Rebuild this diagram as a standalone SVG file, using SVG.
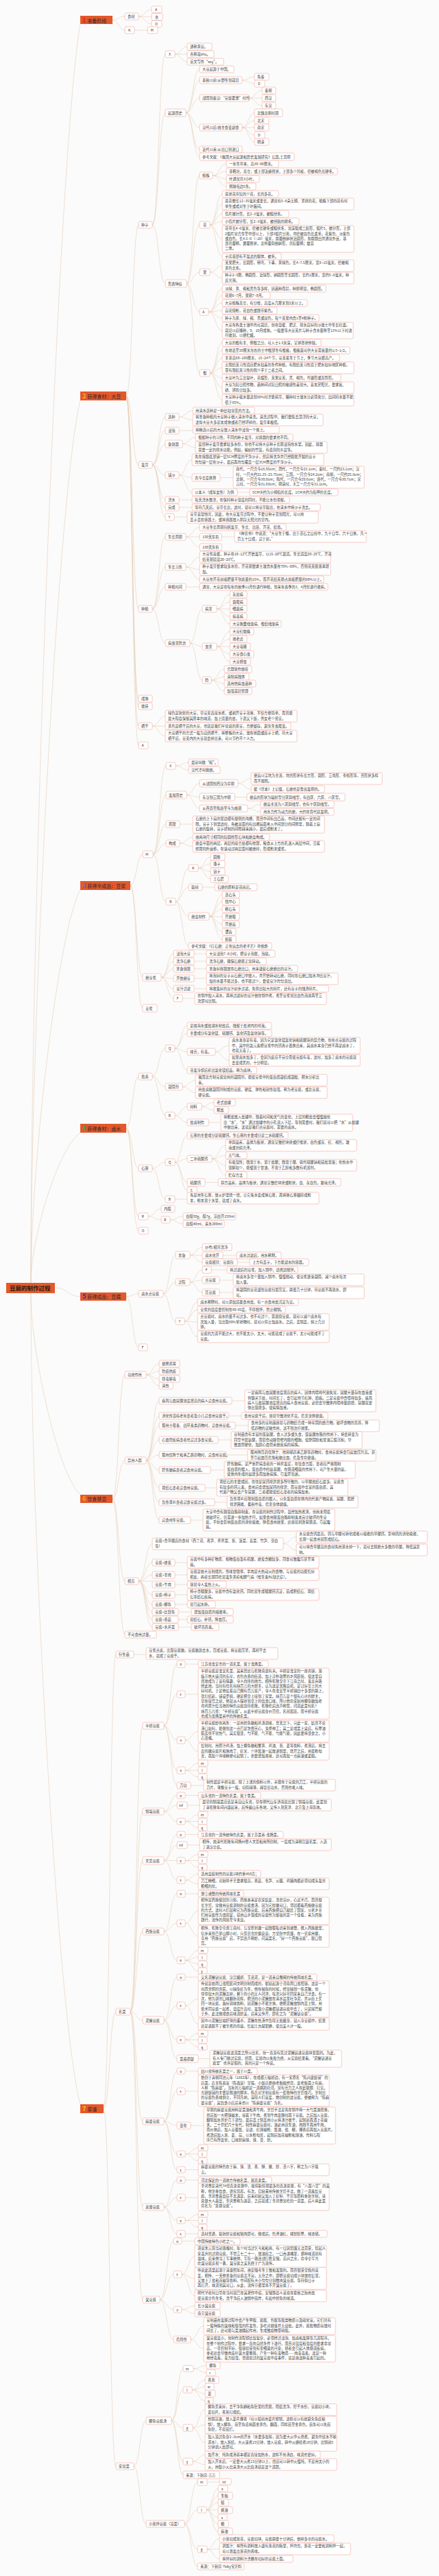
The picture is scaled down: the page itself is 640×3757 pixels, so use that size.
<svg xmlns="http://www.w3.org/2000/svg" width="640" height="3757" viewBox="0 0 640 3757">
<style>
.bg{fill:#fbfbfb}
.n rect{fill:#fff;stroke:#f2a89a;stroke-width:.6;rx:2px}
text{font-family:"Noto Sans CJK SC","Noto Sans",sans-serif;font-size:5.2px;fill:#3a3a3a}
.l1 rect,.root rect{fill:#e4582b}
.l1 text{font-size:7px;fill:#2a2a2a}
.num{font-size:9.5px;font-weight:bold}
.root text{font-size:8.5px;font-weight:bold;fill:#2a1a10}
#links path{fill:none;stroke:#e6cdb6;stroke-width:.6}
</style>
<rect class="bg" x="0" y="0" width="640" height="3757"/>
<g id="links">
<path d="M45 1871C45 1320 85 219 117 35M45 1871C45 1485 85 713 117 584M45 1871C45 1699 85 1355 117 1298M45 1871C45 1805 85 1674 117 1652M80 1878C98 1878 99 1891 117 1891M45 1886C45 1974 85 2151 117 2180M45 1886C45 2241 85 2951 117 3069"/>
<path d="M164 29C173 29 173 24 182 24M164 29C173 29 173 44 182 44M202 24C211 24 211 14 221 14M202 24C211 24 211 24.5 221 24.5M202 24C211 24 211 35 221 35M196 44H215"/>
<path d="M184 577.5C193 577.5 193 328 202 328M184 577.5C193 577.5 193 678 202 678M184 577.5C193 577.5 193 888 202 888M184 577.5C193 577.5 193 1019 202 1019M184 577.5C193 577.5 193 1030 202 1030M184 577.5C193 577.5 193 1059 202 1059M184 577.5C193 577.5 193 1087 202 1087"/>
<path d="M222 328C231.5 328 231.5 79 241 79M222 328C231.5 328 231.5 164.5 241 164.5M222 328C231.5 328 231.5 413.5 241 413.5"/>
<path d="M255 79C264 79 264 68 273 68M255 79H273M255 79C264 79 264 90 273 90"/>
<path d="M271 164.5C281 164.5 281 101 291 101M271 164.5C281 164.5 281 117 291 117M271 164.5C281 164.5 281 143 291 143M271 164.5C281 164.5 281 186 291 186M271 164.5C281 164.5 281 218 291 218M271 164.5C281 164.5 281 228.5 291 228.5"/>
<path d="M353 117C362 117 362 112 371 112M353 117C362 117 362 122 371 122M363 143C372.5 143 372.5 132 382 132M363 143H382M363 143C372.5 143 372.5 154 382 154"/>
<path d="M353 186C362 186 362 164.5 371 164.5M353 186C362 186 362 176 371 176M353 186H371M353 186C362 186 362 197 371 197M353 186C362 186 362 207 371 207"/>
<path d="M272 413.5C281.5 413.5 281.5 256 291 256M272 413.5C281.5 413.5 281.5 328 291 328M272 413.5C281.5 413.5 281.5 397 291 397M272 413.5C281.5 413.5 281.5 455 291 455M272 413.5C281.5 413.5 281.5 544 291 544"/>
<path d="M310 256C320 256 320 239 330 239M310 256C320 256 320 250 330 250M310 256C320 256 320 261 330 261M310 256C320 256 320 272 330 272"/>
<path d="M306 328C315 328 315 283 324 283M306 328C315 328 315 297.5 324 297.5M306 328C315 328 315 312 324 312M306 328C315 328 315 323 324 323M306 328C315 328 315 348.5 324 348.5M306 328C315 328 315 374 324 374"/>
<path d="M306 397C315 397 315 387.5 324 387.5M306 397C315 397 315 405.5 324 405.5"/>
<path d="M304 455C314 455 314 421 324 421M304 455C314 455 314 431 324 431M304 455C314 455 314 442 324 442M304 455C314 455 314 453 324 453M304 455C314 455 314 464 324 464M304 455C314 455 314 482 324 482"/>
<path d="M306 544C315 544 315 500 324 500M306 544C315 544 315 511 324 511M306 544C315 544 315 522 324 522M306 544C315 544 315 536.5 324 536.5M306 544C315 544 315 551 324 551M306 544C315 544 315 565.5 324 565.5M306 544C315 544 315 583.5 324 583.5"/>
<path d="M222 678C231.5 678 231.5 608 241 608M222 678C231.5 678 231.5 628 241 628M222 678C231.5 678 231.5 647.5 241 647.5M222 678C231.5 678 231.5 693 241 693M222 678C231.5 678 231.5 729 241 729M222 678C231.5 678 231.5 740 241 740M222 678C231.5 678 231.5 754 241 754"/>
<path d="M261 608C271 608 271 599 281 599M261 608C271 608 271 612.5 281 612.5M261 628H281M266 647.5C275.5 647.5 275.5 638 285 638M266 647.5C275.5 647.5 275.5 652.5 285 652.5"/>
<path d="M261 693C270.5 693 270.5 670.5 280 670.5M261 693C270.5 693 270.5 696.5 280 696.5M261 693C270.5 693 270.5 718 280 718M321 696.5H340M346 718H364M261 729H280M261 740H280M254 754H273"/>
<path d="M222 888C231.5 888 231.5 783 241 783M222 888C231.5 888 231.5 827 241 827M222 888C231.5 888 231.5 856 241 856M222 888C231.5 888 231.5 938 241 938"/>
<path d="M271 783C281 783 281 769 291 769M271 783H291M271 783C281 783 281 798 291 798M323 783H342"/>
<path d="M271 827C281 827 281 812.5 291 812.5M271 827C281 827 281 830.5 291 830.5M271 827C281 827 281 845 291 845M271 856H291"/>
<path d="M277 938C286 938 286 888 295 888M277 938C286 938 286 943 295 943M277 938C286 938 286 992 295 992"/>
<path d="M316 888C325.5 888 325.5 867 335 867M316 888C325.5 888 325.5 878 335 878M316 888H335M316 888C325.5 888 325.5 899 335 899M316 888C325.5 888 325.5 910 335 910"/>
<path d="M316 943C325.5 943 325.5 921 335 921M316 943C325.5 943 325.5 932 335 932M316 943H335M316 943C325.5 943 325.5 954 335 954M316 943C325.5 943 325.5 965 335 965"/>
<path d="M308 992C317.5 992 317.5 976 327 976M308 992C317.5 992 317.5 987 327 987M308 992C317.5 992 317.5 997 327 997M308 992C317.5 992 317.5 1008 327 1008"/>
<path d="M222 1059C231.5 1059 231.5 1044.5 241 1044.5M222 1059H241M222 1059C231.5 1059 231.5 1073.5 241 1073.5"/>
<path d="M190 1291.5C199 1291.5 199 1246 208 1246M190 1291.5C199 1291.5 199 1425.5 208 1425.5M190 1291.5C199 1291.5 199 1470.5 208 1470.5"/>
<path d="M223 1246C232.5 1246 232.5 1117 242 1117M223 1246C232.5 1246 232.5 1159.5 242 1159.5M223 1246C232.5 1246 232.5 1202 242 1202M223 1246C232.5 1246 232.5 1230 242 1230M223 1246C232.5 1246 232.5 1315 242 1315"/>
<path d="M256 1117C265.5 1117 265.5 1112 275 1112M256 1117C265.5 1117 265.5 1123 275 1123"/>
<path d="M272 1159.5C281.5 1159.5 281.5 1142.5 291 1142.5M272 1159.5C281.5 1159.5 281.5 1162.5 291 1162.5M272 1159.5C281.5 1159.5 281.5 1179 291 1179"/>
<path d="M347 1142.5C356.5 1142.5 356.5 1135.5 366 1135.5M347 1142.5C356.5 1142.5 356.5 1151 366 1151M342 1162.5H360M361 1179C370.5 1179 370.5 1173 380 1173M361 1179C370.5 1179 370.5 1184 380 1184"/>
<path d="M262 1202H281M262 1230C271.5 1230 271.5 1221 281 1221M262 1230C271.5 1230 271.5 1234.5 281 1234.5"/>
<path d="M256 1315C265.5 1315 265.5 1266 275 1266M256 1315C265.5 1315 265.5 1294 275 1294M256 1315C265.5 1315 265.5 1336.5 275 1336.5M256 1315C265.5 1315 265.5 1380 275 1380"/>
<path d="M289 1266C298 1266 298 1250 307 1250M289 1266C298 1266 298 1260 307 1260M289 1266C298 1266 298 1271 307 1271M289 1266C298 1266 298 1282 307 1282M295 1294H313"/>
<path d="M305 1336.5C314.5 1336.5 314.5 1305 324 1305M305 1336.5C314.5 1336.5 314.5 1315 324 1315M305 1336.5C314.5 1336.5 314.5 1326 324 1326M305 1336.5C314.5 1336.5 314.5 1337 324 1337M305 1336.5C314.5 1336.5 314.5 1348 324 1348M305 1336.5C314.5 1336.5 314.5 1359 324 1359M305 1336.5C314.5 1336.5 314.5 1370 324 1370"/>
<path d="M235 1425.5C244 1425.5 244 1391 253 1391M235 1425.5C244 1425.5 244 1402 253 1402M235 1425.5C244 1425.5 244 1413 253 1413M235 1425.5C244 1425.5 244 1427 253 1427M235 1425.5C244 1425.5 244 1442 253 1442M235 1425.5C244 1425.5 244 1456 253 1456"/>
<path d="M283 1391H301M283 1402H301M283 1413H301M283 1427H301M283 1442H301M266 1456H284"/>
<path d="M184 1645.5C193 1645.5 193 1570 202 1570M184 1645.5C193 1645.5 193 1704 202 1704M184 1645.5C193 1645.5 193 1774 202 1774M184 1645.5C193 1645.5 193 1795 202 1795"/>
<path d="M222 1570C231.5 1570 231.5 1529 241 1529M222 1570C231.5 1570 231.5 1585 241 1585M222 1570C231.5 1570 231.5 1627 241 1627"/>
<path d="M255 1529C264 1529 264 1496 273 1496M255 1529C264 1529 264 1507 273 1507M255 1529C264 1529 264 1534 273 1534M255 1529C264 1529 264 1561 273 1561"/>
<path d="M314 1534C324 1534 324 1525 334 1525M314 1534C324 1534 324 1546.5 334 1546.5M266 1585C275.5 1585 275.5 1575.5 285 1575.5M266 1585C275.5 1585 275.5 1593.5 285 1593.5"/>
<path d="M255 1627C264 1627 264 1614 273 1614M255 1627C264 1627 264 1637 273 1637M294 1614C303 1614 303 1608 312 1608M294 1614C303 1614 303 1619 312 1619M304 1637H322"/>
<path d="M222 1704C231.5 1704 231.5 1695 241 1695M222 1704C231.5 1704 231.5 1749 241 1749"/>
<path d="M255 1695C264 1695 264 1656 273 1656M255 1695C264 1695 264 1690 273 1690M255 1695C264 1695 264 1724.5 273 1724.5M255 1695C264 1695 264 1735.5 273 1735.5"/>
<path d="M309 1690C319 1690 319 1670.5 329 1670.5M309 1690C319 1690 319 1685 329 1685M309 1690C319 1690 319 1699.5 329 1699.5M309 1690C319 1690 319 1714 329 1714M299 1724.5H318M255 1749H273"/>
<path d="M216 1774C225.5 1774 225.5 1763 235 1763M216 1774C225.5 1774 225.5 1779 235 1779M248 1779C257.5 1779 257.5 1774 267 1774M248 1779C257.5 1779 257.5 1785 267 1785"/>
<path d="M184 1891C193 1891 193 1887 202 1887M184 1891C193 1891 193 1965 202 1965"/>
<path d="M238 1887C247 1887 247 1830.5 256 1830.5M238 1887C247 1887 247 1870 256 1870M238 1887C247 1887 247 1927 256 1927"/>
<path d="M277 1830.5C286 1830.5 286 1819 295 1819M277 1830.5C286 1830.5 286 1831 295 1831M277 1830.5C286 1830.5 286 1841 295 1841M325 1831H345M346 1841H364"/>
<path d="M277 1870C286 1870 286 1852 295 1852M277 1870C286 1870 286 1867 295 1867M277 1870C286 1870 286 1885 295 1885M308 1852H331M320 1867H340M320 1885H340"/>
<path d="M269 1927C278.5 1927 278.5 1899 288 1899M269 1927C278.5 1927 278.5 1910 288 1910M269 1927C278.5 1927 278.5 1928 288 1928M269 1927C278.5 1927 278.5 1949.5 288 1949.5"/>
<path d="M164 2186C173 2186 173 2005 182 2005M164 2186C173 2186 173 2130 182 2130M164 2186C173 2186 173 2306 182 2306M164 2186C173 2186 173 2384 182 2384"/>
<path d="M213 2005C222.5 2005 222.5 1989 232 1989M213 2005C222.5 2005 222.5 2000 232 2000M213 2005C222.5 2005 222.5 2011 232 2011M213 2005C222.5 2005 222.5 2021 232 2021"/>
<path d="M213 2130C222.5 2130 222.5 2043 232 2043M213 2130C222.5 2130 222.5 2065 232 2065M213 2130C222.5 2130 222.5 2079 232 2079M213 2130C222.5 2130 222.5 2100 232 2100M213 2130C222.5 2130 222.5 2122 232 2122M213 2130C222.5 2130 222.5 2144 232 2144M213 2130C222.5 2130 222.5 2170 232 2170M213 2130C222.5 2130 222.5 2191 232 2191M213 2130C222.5 2130 222.5 2217 232 2217"/>
<path d="M338 2043H357M333 2065H352M343 2079H362M318 2100H337M330 2122H361M307 2144H327M299 2170H316M313 2191H331M278 2217H296"/>
<path d="M202 2306C212 2306 212 2251.5 222 2251.5M202 2306C212 2306 212 2279 222 2279M202 2306C212 2306 212 2297 222 2297M202 2306H222M202 2306C212 2306 212 2326 222 2326M202 2306C212 2306 212 2340 222 2340M202 2306C212 2306 212 2351 222 2351M202 2306C212 2306 212 2362 222 2362M202 2306C212 2306 212 2373 222 2373"/>
<path d="M413 2251.5C422.5 2251.5 422.5 2241.5 432 2241.5M413 2251.5C422.5 2251.5 422.5 2260.5 432 2260.5M255 2279H273M255 2297H273M255 2311H273M255 2326H273M255 2340H273M260 2351H279M260 2362H273M260 2373H279"/>
<path d="M151 3075.5C160 3075.5 160 2413 169 2413M151 3075.5C160 3075.5 160 2934 169 2934M151 3075.5C160 3075.5 160 3597 169 3597M195 2413H213"/>
<path d="M190 2934C199 2934 199 2517 208 2517M190 2934C199 2934 199 2642 208 2642M190 2934C199 2934 199 2713.5 208 2713.5M190 2934C199 2934 199 2817 208 2817M190 2934C199 2934 199 2946.5 208 2946.5M190 2934C199 2934 199 3094 208 3094M190 2934C199 2934 199 3219 208 3219M190 2934C199 2934 199 3354 208 3354"/>
<path d="M239 2517C248.5 2517 248.5 2427 258 2427M239 2517C248.5 2517 248.5 2471 258 2471M239 2517C248.5 2517 248.5 2538 258 2538M239 2517C248.5 2517 248.5 2582 258 2582M239 2517C248.5 2517 248.5 2604 258 2604M270 2427H289M270 2471H289"/>
<path d="M270 2538C279.5 2538 279.5 2525 289 2525M270 2538C279.5 2538 279.5 2554.5 289 2554.5M270 2582C279.5 2582 279.5 2571.5 289 2571.5M270 2582H289M270 2582C279.5 2582 279.5 2591.5 289 2591.5M278 2604H297"/>
<path d="M239 2642C248.5 2642 248.5 2618.5 258 2618.5M239 2642C248.5 2642 248.5 2633 258 2633M239 2642C248.5 2642 248.5 2656.5 258 2656.5M270 2618.5H289M273 2633H291M270 2656.5C279.5 2656.5 279.5 2646.5 289 2646.5M270 2656.5H289M270 2656.5C279.5 2656.5 279.5 2665.5 289 2665.5"/>
<path d="M239 2713.5C248.5 2713.5 248.5 2675.5 258 2675.5M239 2713.5C248.5 2713.5 248.5 2691 258 2691M239 2713.5H258M239 2713.5C248.5 2713.5 248.5 2742 258 2742M270 2675.5H289M273 2691H291M270 2713.5C279.5 2713.5 279.5 2704.5 289 2704.5M270 2713.5H289M270 2713.5C279.5 2713.5 279.5 2723.5 289 2723.5M270 2742C279.5 2742 279.5 2733 289 2733M270 2742C279.5 2742 279.5 2747.5 289 2747.5"/>
<path d="M239 2817C248.5 2817 248.5 2762 258 2762M239 2817C248.5 2817 248.5 2805 258 2805M239 2817C248.5 2817 248.5 2859 258 2859M270 2762H289M270 2805C279.5 2805 279.5 2787 289 2787M270 2805C279.5 2805 279.5 2824 289 2824M270 2859C279.5 2859 279.5 2844.5 289 2844.5M270 2859C279.5 2859 279.5 2854.5 289 2854.5M270 2859C279.5 2859 279.5 2864.5 289 2864.5M270 2859C279.5 2859 279.5 2874.5 289 2874.5"/>
<path d="M239 2946.5C248.5 2946.5 248.5 2883.5 258 2883.5M239 2946.5C248.5 2946.5 248.5 2925 258 2925M239 2946.5C248.5 2946.5 248.5 2975 258 2975M239 2946.5C248.5 2946.5 248.5 3002.5 258 3002.5M270 2883.5H289M270 2925C279.5 2925 279.5 2915.5 289 2915.5M270 2925C279.5 2925 279.5 2952 289 2952M270 2975C279.5 2975 279.5 2965.5 289 2965.5M270 2975H289M270 2975C279.5 2975 279.5 2985.5 289 2985.5M289 3002.5H306"/>
<path d="M239 3094C248.5 3094 248.5 3020.5 258 3020.5M239 3094C248.5 3094 248.5 3050 258 3050M239 3094C248.5 3094 248.5 3100 258 3100M239 3094C248.5 3094 248.5 3141.5 258 3141.5M239 3094C248.5 3094 248.5 3164.5 258 3164.5M270 3020.5H289M270 3050H289M278 3100H297M270 3141.5C279.5 3141.5 279.5 3132.5 289 3132.5M270 3141.5H289M270 3141.5C279.5 3141.5 279.5 3151.5 289 3151.5M270 3164.5H289"/>
<path d="M239 3219C248.5 3219 248.5 3179.5 258 3179.5M239 3219C248.5 3219 248.5 3205 258 3205M239 3219C248.5 3219 248.5 3238.5 258 3238.5M239 3219C248.5 3219 248.5 3258 258 3258M270 3179.5H289M270 3205H289M270 3238.5C279.5 3238.5 279.5 3229.5 289 3229.5M270 3238.5H289M270 3238.5C279.5 3238.5 279.5 3248.5 289 3248.5M270 3258H289"/>
<path d="M233 3354C243 3354 243 3268.5 253 3268.5M233 3354C243 3354 243 3317 253 3317M233 3354C243 3354 243 3368.5 253 3368.5M233 3354C243 3354 243 3412 253 3412M265 3268.5H284M265 3317C274.5 3317 274.5 3291 284 3291M265 3317C274.5 3317 274.5 3323 284 3323M265 3317C274.5 3317 274.5 3348.5 284 3348.5M265 3368.5C274.5 3368.5 274.5 3363 284 3363M265 3368.5C274.5 3368.5 274.5 3374 284 3374M278 3412C287.5 3412 287.5 3392.5 297 3392.5M278 3412C287.5 3412 287.5 3425.5 297 3425.5"/>
<path d="M195 3597C204 3597 204 3530.5 213 3530.5M195 3597C204 3597 204 3681 213 3681"/>
<path d="M250 3530.5C258.5 3530.5 258.5 3454.5 267 3454.5M250 3530.5C258.5 3530.5 258.5 3485.5 267 3485.5M250 3530.5C258.5 3530.5 258.5 3541 267 3541M250 3530.5C258.5 3530.5 258.5 3590 267 3590M250 3530.5C258.5 3530.5 258.5 3609.5 267 3609.5"/>
<path d="M282 3454.5C291.5 3454.5 291.5 3450 301 3450M282 3454.5C291.5 3454.5 291.5 3460.5 301 3460.5M280 3485.5C289.5 3485.5 289.5 3471 299 3471M280 3485.5C289.5 3485.5 289.5 3481 299 3481M280 3485.5C289.5 3485.5 289.5 3491 299 3491M280 3485.5C289.5 3485.5 289.5 3501.5 299 3501.5"/>
<path d="M281 3541C290 3541 290 3514.5 299 3514.5M281 3541C290 3541 290 3536.5 299 3536.5M281 3541C290 3541 290 3562.5 299 3562.5M281 3590C290 3590 290 3580 299 3580M281 3590C290 3590 290 3594.5 299 3594.5"/>
<path d="M269 3681C278.5 3681 278.5 3620 288 3620M269 3681C278.5 3681 278.5 3660.5 288 3660.5M269 3681C278.5 3681 278.5 3718 288 3718M269 3681C278.5 3681 278.5 3743 288 3743M302 3620H320"/>
<path d="M301 3660.5C309.5 3660.5 309.5 3629.5 318 3629.5M301 3660.5C309.5 3660.5 309.5 3640 318 3640M301 3660.5C309.5 3660.5 309.5 3650 318 3650M301 3660.5H318M301 3660.5C309.5 3660.5 309.5 3671.5 318 3671.5M301 3660.5C309.5 3660.5 309.5 3681 318 3681M301 3660.5C309.5 3660.5 309.5 3692 318 3692"/>
<path d="M302 3718C311 3718 311 3702.5 320 3702.5M302 3718C311 3718 311 3717.5 320 3717.5M302 3718C311 3718 311 3732 320 3732"/>
</g>

<g id="root" class="root"><rect x="9" y="1871" width="71" height="15"/><text x="14" y="1881.5">豆腐的制作过程</text></g>

<g id="s1" class="l1"><rect x="117" y="23" width="47" height="12"/><text x="120" y="32.5"><tspan class="num" fill="#d42a1c">1</tspan> 准备阶段</text></g>
<g id="s1a" class="n"><rect x="182" y="19" width="20" height="10"/><text x="186" y="26">食材</text></g>
<g id="s1a1" class="n"><rect x="221" y="9" width="15" height="9.5"/><text x="226" y="15.8">A</text></g>
<g id="s1a2" class="n"><rect x="221" y="19.5" width="16" height="10"/><text x="226" y="26.5">水</text></g>
<g id="s1a3" class="n"><rect x="221" y="30" width="15" height="9.5"/><text x="226" y="36.8">O</text></g>
<g id="s1b" class="n"><rect x="182" y="39" width="14" height="10"/><text x="187" y="46">K</text></g>
<g id="s1b1" class="n"><rect x="215" y="39" width="15" height="10"/><text x="219.5" y="46">M</text></g>

<g id="s2" class="l1"><rect x="117" y="571" width="67" height="13"/><text x="120" y="580.8"><tspan class="num" fill="#f6b01e">2</tspan> 获得食材：大豆</text></g>
<g id="zz" class="n"><rect x="202" y="323" width="20" height="10"/><text x="206" y="330">种子</text></g>
<g id="zzX" class="n"><rect x="241" y="74" width="14" height="10"/><text x="246" y="81">X</text></g>
<g id="zzX1" class="n"><rect x="273" y="63" width="36" height="10"/><text x="277" y="70">通称黄豆。</text></g>
<g id="zzX2" class="n"><rect x="273" y="74" width="39" height="10"/><text x="277" y="81">古称菽shu。</text></g>
<g id="zzX3" class="n"><rect x="273" y="85" width="53" height="10"/><text x="277" y="92">英文写作“soy”。</text></g>
<g id="qy" class="n"><rect x="241" y="159" width="30" height="11"/><text x="245" y="166.5">起源历史</text></g>
<g id="qy1" class="n"><rect x="291" y="96" width="50" height="10"/><text x="295" y="103">大豆起源于中国。</text></g>
<g id="qy2" class="n"><rect x="291" y="112" width="62" height="10"/><text x="295" y="119">春秋以前:从野生到栽培</text></g>
<g id="qy2a" class="n"><rect x="371" y="107" width="21" height="10"/><text x="375" y="114">先秦</text></g>
<g id="qy2b" class="n"><rect x="371" y="117" width="15" height="10"/><text x="376" y="124">D</text></g>
<g id="qy3" class="n"><rect x="291" y="138" width="72" height="10"/><text x="295" y="145">战国到秦汉:“豆饭藿羹”时代</text></g>
<g id="qy3a" class="n"><rect x="382" y="127" width="20" height="10"/><text x="386" y="134">秦朝</text></g>
<g id="qy3b" class="n"><rect x="382" y="138" width="20" height="10"/><text x="386" y="145">西汉</text></g>
<g id="qy3c" class="n"><rect x="382" y="149" width="20" height="10"/><text x="386" y="156">东汉</text></g>
<g id="qy4" class="n"><rect x="291" y="181" width="62" height="10"/><text x="295" y="188">汉代以后:由主食变副食</text></g>
<g id="qy4a" class="n"><rect x="371" y="159" width="41" height="11"/><text x="375" y="166.5">北魏北朝时期</text></g>
<g id="qy4b" class="n"><rect x="371" y="171" width="21" height="10"/><text x="375" y="178">北宋</text></g>
<g id="qy4c" class="n"><rect x="371" y="181" width="21" height="10"/><text x="375" y="188">南宋</text></g>
<g id="qy4d" class="n"><rect x="371" y="192" width="15" height="10"/><text x="376" y="199">D</text></g>
<g id="qy4e" class="n"><rect x="371" y="202" width="21" height="10"/><text x="375" y="209">明清</text></g>
<g id="qy5" class="n"><rect x="291" y="213" width="62" height="10"/><text x="295" y="220">近代以来:从出口到进口</text></g>
<g id="qy6" class="n"><rect x="291" y="223" width="138" height="11"/><text x="295" y="230.5">参考文献：《我国大豆起源和历史发展研究》石慧,王思明</text></g>
<g id="xt" class="n"><rect x="241" y="408" width="31" height="11"/><text x="245" y="415.5">形态特征</text></g>
<g id="xt1" class="n"><rect x="291" y="251" width="19" height="10"/><text x="295" y="258">植株</text></g>
<g id="xt1a" class="n"><rect x="330" y="234" width="76" height="10"/><text x="334" y="241">一年生草本，高30~90厘米。</text></g>
<g id="xt1b" class="n"><rect x="330" y="245" width="162" height="10"/><text x="334" y="252">茎粗壮，直立，或上部近缠绕状，上部多少具棱，密被褐色长硬毛。</text></g>
<g id="xt1c" class="n"><rect x="330" y="256" width="48" height="10"/><text x="334" y="263">叶通常具3小叶。</text></g>
<g id="xt1d" class="n"><rect x="330" y="267" width="43" height="10"/><text x="334" y="274">侧脉每边5条。</text></g>
<g id="xt2" class="n"><rect x="291" y="323" width="15" height="10"/><text x="296" y="330">花</text></g>
<g id="xt2a" class="n"><rect x="324" y="278" width="82" height="10"/><text x="328" y="285">总状花序短的少花，长的多花。</text></g>
<g id="xt2b" class="n"><rect x="324" y="289" width="192" height="17"/><text x="328" y="295.2">总花梗长12~35毫米或更长，通常有5~8朵无柄、紧挤的花，植株下部的花有时<tspan x="328" dy="7.3">单生或成对生于叶腋间。</tspan></text></g>
<g id="xt2c" class="n"><rect x="324" y="307" width="97" height="10"/><text x="328" y="314">苞片披针形，长2~3毫米，被糙伏毛。</text></g>
<g id="xt2d" class="n"><rect x="324" y="318" width="112" height="10"/><text x="328" y="325">小苞片披针形，长2~3毫米，被伏贴的刚毛。</text></g>
<g id="xt2e" class="n"><rect x="324" y="329" width="192" height="39"/><text x="328" y="335.2">花萼长4~6毫米，密被长硬毛或糙伏毛，常深裂成二唇形，裂片5，披针形，上部<tspan x="328" dy="7.3">2裂片常合生至中部以上，下部3裂片分离，均密被白色长柔毛，花紫色、淡紫色</tspan><tspan x="328" dy="7.3">或白色，长4.5~8（~10）毫米，旗瓣倒卵状近圆形，先端微凹并通常外反，基</tspan><tspan x="328" dy="7.3">部具瓣柄，翼瓣篦状，龙骨瓣斜倒卵形，具短瓣柄；雄蕊</tspan><tspan x="328" dy="7.3">二体。</tspan></text></g>
<g id="xt2f" class="n"><rect x="324" y="369" width="86" height="10"/><text x="328" y="376">子房基部有不发达的腺体，被毛。</text></g>
<g id="xt3" class="n"><rect x="291" y="392" width="15" height="10"/><text x="296" y="399">果</text></g>
<g id="xt3a" class="n"><rect x="324" y="379" width="192" height="17"/><text x="328" y="385.2">荚果肥大，长圆形，稍弯，下垂，黄绿色，长4~7.5厘米，宽8~15毫米，密被褐<tspan x="328" dy="7.3">黄色长毛。</tspan></text></g>
<g id="xt3b" class="n"><rect x="324" y="397" width="192" height="17"/><text x="328" y="403.2">种子2~5颗，椭圆形、近球形，卵圆形至长圆形，长约1厘米，宽约5~8毫米，种<tspan x="328" dy="7.3">皮光滑。</tspan></text></g>
<g id="xt4" class="n"><rect x="291" y="450" width="13" height="10"/><text x="295" y="457">A</text></g>
<g id="xt4a" class="n"><rect x="324" y="416" width="151" height="10"/><text x="328" y="423">淡绿、黄、褐和黑色等多样，因品种而异，种脐明显，椭圆形。</text></g>
<g id="xt4b" class="n"><rect x="324" y="426" width="70" height="10"/><text x="328" y="433">花期6~7月，果期7~9月。</text></g>
<g id="xt4c" class="n"><rect x="324" y="437" width="124" height="10"/><text x="328" y="444">大豆植株直立，有分枝，高度从几厘米到2米以上。</text></g>
<g id="xt4d" class="n"><rect x="324" y="448" width="80" height="10"/><text x="328" y="455">自花授粉，花白色或微带紫色。</text></g>
<g id="xt4e" class="n"><rect x="324" y="459" width="141" height="10"/><text x="328" y="466">种子为黄、绿、褐、黑或双色，每个荚果内含1至4粒种子。</text></g>
<g id="xt4f" class="n"><rect x="324" y="470" width="191" height="24"/><text x="328" y="476.2">大豆在各类土壤中均可栽培，但在温暖、肥沃、排水良好的沙壤土中生长旺盛。<tspan x="328" dy="7.3">栽培以后播种，9、10月成熟。一般要等大豆荚片与种子含水量降至13%以下时进</tspan><tspan x="328" dy="7.3">行收割，以便贮藏。</tspan></text></g>
<g id="xt5" class="n"><rect x="291" y="539" width="15" height="10"/><text x="296" y="546">根</text></g>
<g id="xt5a" class="n"><rect x="324" y="495" width="144" height="10"/><text x="328" y="502">大豆的根有主、侧根之分，可入土1.5米深，呈钟罩状伸展。</text></g>
<g id="xt5b" class="n"><rect x="324" y="506" width="186" height="10"/><text x="328" y="513">在地表至20厘米左右的土中根部生有根瘤，根瘤菌可供大豆需氮量的1/3~1/2。</text></g>
<g id="xt5c" class="n"><rect x="324" y="517" width="171" height="10"/><text x="328" y="524">主茎高60~100厘米，15~24个节，豆荚着生于节上，季节大豆都高产。</text></g>
<g id="xt5d" class="n"><rect x="324" y="528" width="192" height="17"/><text x="328" y="534.2">无限结荚习性适应肥水较差的条件种植，有限结荚习性适于肥水较好地区种植，<tspan x="328" dy="7.3">亚有限结荚习性的则介乎于二者之间。</tspan></text></g>
<g id="xt5e" class="n"><rect x="324" y="546" width="173" height="10"/><text x="328" y="553">大豆叶为三出复叶，花蝶形，荚果豆荚，黑、褐色，弯镰形或直筒形。</text></g>
<g id="xt5f" class="n"><rect x="324" y="557" width="192" height="17"/><text x="328" y="563.2">大豆为短日照作物，品种间对短日照的敏感性差别大。喜充足阳光，要求氮、<tspan x="328" dy="7.3">磷、钾养分较多。</tspan></text></g>
<g id="xt5g" class="n"><rect x="324" y="575" width="192" height="17"/><text x="328" y="581.2">大豆种子吸水量达到50%时才能萌芽，播种时土壤水分必须充分，田间持水量不能<tspan x="328" dy="7.3">低于65%。</tspan></text></g>

<g id="fy" class="n"><rect x="202" y="673" width="20" height="10"/><text x="206" y="680">发芽</text></g>
<g id="fy1" class="n"><rect x="241" y="603" width="20" height="10"/><text x="245" y="610">选种</text></g>
<g id="fy1a" class="n"><rect x="281" y="594" width="90" height="10"/><text x="285" y="601">用清水选种是一种比较常见的方法。</text></g>
<g id="fy1b" class="n"><rect x="281" y="604" width="190" height="17"/><text x="285" y="610.2">将准备种植的大豆种子倒入清水中清洗。清洗过程中，我们要拣去漂浮的大豆，<tspan x="285" dy="7.3">这些大豆大多是未成熟或者已经坏掉的，发芽率极低。</tspan></text></g>
<g id="fy2" class="n"><rect x="241" y="623" width="20" height="10"/><text x="245" y="630">浸泡</text></g>
<g id="fy2a" class="n"><rect x="281" y="622" width="126" height="10"/><text x="285" y="629">将精选以后的大豆放入清水中浸泡一个晚上。</text></g>
<g id="fy3" class="n"><rect x="241" y="642" width="25" height="11"/><text x="245" y="649.5">备容器</text></g>
<g id="fy3a" class="n"><rect x="285" y="633" width="142" height="10"/><text x="289" y="640">根据种子的习性，不同的种子发芽，对容器的要求也不同。</text></g>
<g id="fy3b" class="n"><rect x="285" y="644" width="192" height="17"/><text x="289" y="650.2">虽然种子发芽要求较多水份，但也不可将大豆种子长期浸泡在水里。因此，容器<tspan x="289" dy="7.3">需要一定的排水功能。例如，编织的竹篮，有底洞的木盆等。</tspan></text></g>
<g id="fy4" class="n"><rect x="241" y="688" width="20" height="10"/><text x="245" y="695">铺沙</text></g>
<g id="fy4a" class="n"><rect x="280" y="662" width="192" height="17"/><text x="284" y="668.2">先在容器底部铺一层5CM厚度的干净沙子，然后将洗净并已经膨胀开裂的豆子<tspan x="284" dy="7.3">均匀铺一层在沙子，最后再均匀覆盖一层3CM厚度的干净沙子。</tspan></text></g>
<g id="fy4b" class="n"><rect x="280" y="691" width="41" height="11"/><text x="284" y="698.5">古今长度换算</text></g>
<g id="fy4b1" class="n"><rect x="340" y="680" width="191" height="32"/><text x="344" y="686.2">商代，一尺合今16.95cm；周代，一尺合今23.1cm；秦时，一尺约23.1cm；汉<tspan x="344" dy="7.3">时，一尺大约21.35~23.75cm；三国，一尺合今24.2cm；南朝，一尺约25.8cm；</tspan><tspan x="344" dy="7.3">北朝，一尺合今30.0cm；隋代，一尺合今29.6cm；唐代，一尺合今30.7cm；宋</tspan><tspan x="344" dy="7.3">元时，一尺合今31.68cm；明清时，木工一尺合今31.1cm。</tspan></text></g>
<g id="fy4c" class="n"><rect x="280" y="713" width="66" height="10"/><text x="284" y="720">以本人（成年女性）为例</text></g>
<g id="fy4c1" class="n"><rect x="364" y="713" width="129" height="10"/><text x="368" y="720">5CM大约为小拇指的长度，1CM大约为指甲的长度。</text></g>
<g id="fy5" class="n"><rect x="241" y="724" width="20" height="10"/><text x="245" y="731">浇水</text></g>
<g id="fy5a" class="n"><rect x="280" y="724" width="142" height="10"/><text x="284" y="731">每天浇水数次，在保持种子湿度的同时，不能让水份滞留。</text></g>
<g id="fy6" class="n"><rect x="241" y="735" width="20" height="10"/><text x="245" y="742">完成</text></g>
<g id="fy6a" class="n"><rect x="280" y="735" width="187" height="10"/><text x="284" y="742">等待几天后，豆芽长出，这时，就可以将豆芽取出，在清水中将沙子洗去。</text></g>
<g id="fy7" class="n"><rect x="241" y="749" width="13" height="10"/><text x="245.5" y="756">Y</text></g>
<g id="fy7a" class="n"><rect x="273" y="746" width="191" height="17"/><text x="277" y="752.2">豆芽喜湿怕光，因此，在大豆发芽过程中，不要让种子见到阳光，可以用<tspan x="277" dy="7.3">盖子盖在容器上，或将容器放入阴凉无阳光的室内。</tspan></text></g>

<g id="zj" class="n"><rect x="202" y="883" width="20" height="10"/><text x="206" y="890">种植</text></g>
<g id="zj1" class="n"><rect x="241" y="778" width="30" height="10"/><text x="245" y="785">生长周期</text></g>
<g id="zj1a" class="n"><rect x="291" y="764" width="126" height="10"/><text x="295" y="771">大豆生长周期包括发芽、生长、出苗、开花、结角。</text></g>
<g id="zj1b" class="n"><rect x="291" y="778" width="32" height="10"/><text x="295" y="785">150天左右</text></g>
<g id="zj1b1" class="n"><rect x="342" y="774" width="192" height="17"/><text x="346" y="780.2">《神农书》中说道：“大豆生于槐，出于沮石之山谷中，九十日华，六十日熟，凡一<tspan x="346" dy="7.3">百五十日成，忌于卯。”</tspan></text></g>
<g id="zj1c" class="n"><rect x="291" y="793" width="32" height="10"/><text x="295" y="800">180天左右</text></g>
<g id="zj2" class="n"><rect x="241" y="822" width="30" height="10"/><text x="245" y="829">生长习性</text></g>
<g id="zj2a" class="n"><rect x="291" y="804" width="191" height="17"/><text x="295" y="810.2">大豆性喜暖，种子在10~12℃开始发芽，以15~20℃最适，生长适温20~25℃，开花<tspan x="295" dy="7.3">结荚期适温20~28℃。</tspan></text></g>
<g id="zj2b" class="n"><rect x="291" y="822" width="191" height="17"/><text x="295" y="828.2">种子发芽要求较多水份，开花期要求土壤含水量在70%~80%，否则花荚脱落率增<tspan x="295" dy="7.3">加。</tspan></text></g>
<g id="zj2c" class="n"><rect x="291" y="840" width="181" height="10"/><text x="295" y="847">大豆在开花前吸肥量不到总量的15%，而开花结荚期占总吸肥量的80%以上。</text></g>
<g id="zj3" class="n"><rect x="241" y="851" width="30" height="10"/><text x="245" y="858">种植时间</text></g>
<g id="zj3a" class="n"><rect x="291" y="851" width="187" height="10"/><text x="295" y="858">通常，大豆是在每年的秋季11月份进行种植，到来年春季的3、4月份进行收获。</text></g>
<g id="zj4" class="n"><rect x="241" y="933" width="36" height="10"/><text x="245" y="940">病虫害防治</text></g>
<g id="bh" class="n"><rect x="295" y="883" width="21" height="10"/><text x="299" y="890">病害</text></g>
<g id="bh1" class="n"><rect x="335" y="862" width="25" height="10"/><text x="339" y="869">灰斑病</text></g>
<g id="bh2" class="n"><rect x="335" y="873" width="25" height="10"/><text x="339" y="880">霜霉病</text></g>
<g id="bh3" class="n"><rect x="335" y="883" width="25" height="10"/><text x="339" y="890">细菌病</text></g>
<g id="bh4" class="n"><rect x="335" y="894" width="25" height="10"/><text x="339" y="901">病毒病</text></g>
<g id="bh5" class="n"><rect x="335" y="905" width="75" height="10"/><text x="339" y="912">大豆胞囊线虫病、根结线虫病</text></g>
<g id="ch" class="n"><rect x="295" y="938" width="21" height="10"/><text x="299" y="945">虫害</text></g>
<g id="ch1" class="n"><rect x="335" y="916" width="35" height="10"/><text x="339" y="923">大豆红蜘蛛</text></g>
<g id="ch2" class="n"><rect x="335" y="927" width="25" height="10"/><text x="339" y="934">地老虎</text></g>
<g id="ch3" class="n"><rect x="335" y="938" width="30" height="10"/><text x="339" y="945">大豆毒蛾</text></g>
<g id="ch4" class="n"><rect x="335" y="949" width="35" height="10"/><text x="339" y="956">大豆食心虫</text></g>
<g id="ch5" class="n"><rect x="335" y="960" width="30" height="10"/><text x="339" y="967">大豆蚜虫</text></g>
<g id="fz" class="n"><rect x="295" y="987" width="13" height="10"/><text x="299" y="994">防</text></g>
<g id="fz1" class="n"><rect x="327" y="971" width="40" height="10"/><text x="331" y="978">合理轮作倒茬</text></g>
<g id="fz2" class="n"><rect x="327" y="982" width="36" height="10"/><text x="331" y="989">清除病残体</text></g>
<g id="fz3" class="n"><rect x="327" y="992" width="46" height="10"/><text x="331" y="999">选用抗病虫品种</text></g>
<g id="fz4" class="n"><rect x="327" y="1003" width="40" height="10"/><text x="331" y="1010">加强栽培管理</text></g>
<g id="cs" class="n"><rect x="202" y="1014" width="20" height="10"/><text x="206" y="1021">成熟</text></g>
<g id="sh" class="n"><rect x="202" y="1025" width="20" height="10"/><text x="206" y="1032">收获</text></g>
<g id="sg" class="n"><rect x="202" y="1054" width="20" height="10"/><text x="206" y="1061">晒干</text></g>
<g id="sg1" class="n"><rect x="241" y="1036" width="192" height="17"/><text x="245" y="1042.2">绿色是新鲜的大豆，带豆荚直接水煮，或剥开豆子蒸熟，不仅方便简单，而且能<tspan x="245" dy="7.3">最大程度保留其原本的味道，加上适量的盐，下酒又下饭，男女老少皆宜。</tspan></text></g>
<g id="sg2" class="n"><rect x="241" y="1054" width="183" height="10"/><text x="245" y="1061">黄色是晒干后的大豆，也就是我们平常说的黄豆，方便储存，避免生虫霉变。</text></g>
<g id="sg3" class="n"><rect x="241" y="1065" width="192" height="17"/><text x="245" y="1071.2">大豆晒干的方式一般为自然晒干，将整株的大豆，放在地面或席子上晒，待大豆<tspan x="245" dy="7.3">晒干后，豆荚内的大豆就会掉出来，可以节约不少人力。</tspan></text></g>
<g id="s2A" class="n"><rect x="202" y="1082" width="14" height="10"/><text x="206.5" y="1089">A</text></g>

<g id="s3" class="l1"><rect x="117" y="1285" width="73" height="13"/><text x="120" y="1294.8"><tspan class="num" fill="#3b74d6">3</tspan> 获得半成品：豆浆</text></g>
<g id="sm" class="n"><rect x="208" y="1241" width="15" height="10"/><text x="212" y="1248">M</text></g>
<g id="smX" class="n"><rect x="242" y="1112" width="14" height="10"/><text x="247" y="1119">X</text></g>
<g id="smX1" class="n"><rect x="275" y="1107" width="43" height="10"/><text x="279" y="1114">最初叫做“磑”。</text></g>
<g id="smX2" class="n"><rect x="275" y="1118" width="46" height="10"/><text x="279" y="1125">汉代才叫做磨。</text></g>
<g id="ls" class="n"><rect x="242" y="1154" width="30" height="11"/><text x="246" y="1161.5">发展历史</text></g>
<g id="ls1" class="n"><rect x="291" y="1137" width="56" height="11"/><text x="295" y="1144.5">从战国到西汉为早期</text></g>
<g id="ls1a" class="n"><rect x="366" y="1127" width="191" height="17"/><text x="370" y="1133.2">磨齿以洼坑为主流，坑的形状有长方形、圆形、三角形、枣核形等，且形状多样<tspan x="370" dy="7.3">而不规则。</tspan></text></g>
<g id="ls1b" class="n"><rect x="366" y="1146" width="107" height="10"/><text x="370" y="1153">据《世本》上记载，石磨也是鲁班发明的。</text></g>
<g id="ls2" class="n"><rect x="291" y="1157" width="51" height="11"/><text x="295" y="1164.5">东汉到三国为中期</text></g>
<g id="ls2a" class="n"><rect x="360" y="1157" width="143" height="11"/><text x="364" y="1164.5">磨齿的形状为辐射型分区斜线型，有四区、六区、八区型。</text></g>
<g id="ls3" class="n"><rect x="291" y="1174" width="70" height="10"/><text x="295" y="1181">从西晋至隋唐至今为晚期</text></g>
<g id="ls3a" class="n"><rect x="380" y="1168" width="107" height="10"/><text x="384" y="1175">磨齿主流为八区斜线型，也有十区斜线型。</text></g>
<g id="ls3b" class="n"><rect x="380" y="1179" width="107" height="10"/><text x="384" y="1186">用水力作为动力的磨，大约在晋代就发明。</text></g>
<g id="yl" class="n"><rect x="242" y="1197" width="20" height="10"/><text x="246" y="1204">原理</text></g>
<g id="yl1" class="n"><rect x="281" y="1190" width="192" height="25"/><text x="285" y="1196.2">石磨的上下扇的里边都有规则的沟槽，而且中间有凹凸齿，中间还留有一定的间<tspan x="285" dy="7.3">隙。豆子下到里边时，先被双面的有凹槽扇面夹入中间部分的间隙里，随着上扇</tspan><tspan x="285" dy="7.3">石磨的旋转，豆子研制的间隙越来越小，最后成粉末了。</tspan></text></g>
<g id="gc" class="n"><rect x="242" y="1225" width="20" height="10"/><text x="246" y="1232">构成</text></g>
<g id="gc1" class="n"><rect x="281" y="1216" width="112" height="10"/><text x="285" y="1223">由两块尺寸相同的短圆柱形石块和磨盘构成。</text></g>
<g id="gc2" class="n"><rect x="281" y="1226" width="192" height="17"/><text x="285" y="1232.2">磨盘平面的两层，两层的接合处都有纹理，粮食从上方的孔进入两层中间，沿着<tspan x="285" dy="7.3">纹理向外运移，在滚动过两层面时被磨碎，形成粉末或浆。</tspan></text></g>
<g id="smB" class="n"><rect x="242" y="1310" width="14" height="10"/><text x="247" y="1317">B</text></g>
<g id="smK" class="n"><rect x="275" y="1261" width="14" height="10"/><text x="280" y="1268">K</text></g>
<g id="smK1" class="n"><rect x="307" y="1245" width="21" height="10"/><text x="311" y="1252">圆枢</text></g>
<g id="smK2" class="n"><rect x="307" y="1255" width="21" height="10"/><text x="311" y="1262">锤子</text></g>
<g id="smK3" class="n"><rect x="307" y="1266" width="21" height="10"/><text x="311" y="1273">钻子</text></g>
<g id="smK4" class="n"><rect x="307" y="1277" width="26" height="10"/><text x="311" y="1284">王石匠</text></g>
<g id="qc" class="n"><rect x="275" y="1289" width="20" height="10"/><text x="279" y="1296">取材</text></g>
<g id="qc1" class="n"><rect x="313" y="1289" width="62" height="10"/><text x="317" y="1296">石磨的原料是花岗岩。</text></g>
<g id="mp" class="n"><rect x="275" y="1331" width="30" height="11"/><text x="279" y="1338.5">磨盘制作</text></g>
<g id="mp1" class="n"><rect x="324" y="1300" width="25" height="10"/><text x="328" y="1307">选石头</text></g>
<g id="mp2" class="n"><rect x="324" y="1310" width="25" height="10"/><text x="328" y="1317">找中心</text></g>
<g id="mp3" class="n"><rect x="324" y="1321" width="25" height="10"/><text x="328" y="1328">断石头</text></g>
<g id="mp4" class="n"><rect x="324" y="1332" width="25" height="10"/><text x="328" y="1339">开磨眼</text></g>
<g id="mp5" class="n"><rect x="324" y="1343" width="25" height="10"/><text x="328" y="1350">开磨齿</text></g>
<g id="mp6" class="n"><rect x="324" y="1354" width="20" height="10"/><text x="328" y="1361">镶齿</text></g>
<g id="mp7" class="n"><rect x="324" y="1365" width="20" height="10"/><text x="328" y="1372">组装</text></g>
<g id="ck" class="n"><rect x="275" y="1375" width="121" height="10"/><text x="279" y="1382">参考文献：《打石磨：正在远去的老手艺》孙伯艳</text></g>
<g id="mdj" class="n"><rect x="208" y="1420" width="27" height="11"/><text x="212" y="1427.5">磨豆浆</text></g>
<g id="md1" class="n"><rect x="253" y="1386" width="30" height="10"/><text x="257" y="1393">浸泡大豆</text></g>
<g id="md1a" class="n"><rect x="301" y="1386" width="100" height="10"/><text x="305" y="1393">大豆浸泡7~8小时，把豆子泡胀，泡软。</text></g>
<g id="md2" class="n"><rect x="253" y="1397" width="30" height="10"/><text x="257" y="1404">洗净石磨</text></g>
<g id="md2a" class="n"><rect x="301" y="1397" width="87" height="10"/><text x="305" y="1404">洗净石磨，确保石磨能正常转动。</text></g>
<g id="md3" class="n"><rect x="253" y="1408" width="30" height="10"/><text x="257" y="1415">准备容器</text></g>
<g id="md3a" class="n"><rect x="301" y="1408" width="133" height="10"/><text x="305" y="1415">准备好容器放在石磨出口，用来盛装石磨磨出的豆汁。</text></g>
<g id="md4" class="n"><rect x="253" y="1422" width="30" height="10"/><text x="257" y="1429">开始磨豆</text></g>
<g id="md4a" class="n"><rect x="301" y="1419" width="192" height="17"/><text x="305" y="1425.2">将泡好的豆子从石磨口中放入，并开始转动石磨，同时在石磨口加水冲出豆汁，<tspan x="305" dy="7.3">加的水量不能过多，也不能过少，要使豆汁均匀流出。</tspan></text></g>
<g id="md5" class="n"><rect x="253" y="1437" width="30" height="10"/><text x="257" y="1444">豆汁过滤</text></g>
<g id="md5a" class="n"><rect x="301" y="1437" width="178" height="10"/><text x="305" y="1444">将收集好的豆汁初步过滤，先筛出较大的碎片，还有豆子的残渣碎片。</text></g>
<g id="md6" class="n"><rect x="253" y="1451" width="13" height="10"/><text x="257.5" y="1458">F</text></g>
<g id="md6a" class="n"><rect x="284" y="1448" width="192" height="17"/><text x="288" y="1454.2">在锅中加入清水，再将过滤好的豆汁倒在锅中煮，煮至豆浆冒出白色泡沫再至三<tspan x="288" dy="7.3">次即可出锅。</tspan></text></g>
<g id="dj" class="n"><rect x="208" y="1465" width="21" height="11"/><text x="212" y="1472.5">豆浆</text></g>

<g id="s4" class="l1"><rect x="117" y="1639" width="67" height="13"/><text x="120" y="1648.8"><tspan class="num" fill="#3fa447">4</tspan> 获得食材：卤水</text></g>
<g id="yl0" class="n"><rect x="202" y="1565" width="20" height="10"/><text x="206" y="1572">盐卤</text></g>
<g id="ylQ" class="n"><rect x="241" y="1524" width="14" height="10"/><text x="245.5" y="1531">Q</text></g>
<g id="ylQ1" class="n"><rect x="273" y="1491" width="123" height="10"/><text x="277" y="1498">是由海水或盐湖水制盐后，残留于盐池内的母液。</text></g>
<g id="ylQ2" class="n"><rect x="273" y="1502" width="123" height="10"/><text x="277" y="1509">主要成分有氯化镁、硫酸钙、氯化钙及氯化钠等。</text></g>
<g id="ylQ3" class="n"><rect x="273" y="1529" width="41" height="10"/><text x="277" y="1536">味苦，有毒。</text></g>
<g id="ylQ3a" class="n"><rect x="334" y="1513" width="191" height="24"/><text x="338" y="1519.2">卤水本身是有毒，因为它是氯化镁氯化钠和硫酸铁的混合物，但在点豆腐的过程<tspan x="338" dy="7.3">中，其中的氯元素把豆浆中的钙离子置换出来，其卤水本身已经不再是卤水了，</tspan><tspan x="338" dy="7.3">也就无毒了。</tspan></text></g>
<g id="ylQ3b" class="n"><rect x="334" y="1538" width="191" height="17"/><text x="338" y="1544.2">如果卤水加多了，会因为反应不完全而使豆腐有毒，这时，加多了卤水的豆腐就<tspan x="338" dy="7.3">会变成黑的，十分明显。</tspan></text></g>
<g id="ylQ4" class="n"><rect x="273" y="1556" width="101" height="10"/><text x="277" y="1563">蒸发冷却后析出氯化镁结晶，称为卤块。</text></g>
<g id="ngj" class="n"><rect x="241" y="1580" width="25" height="10"/><text x="245" y="1587">凝固剂</text></g>
<g id="ngj1" class="n"><rect x="285" y="1567" width="192" height="17"/><text x="289" y="1573.2">我国北方制豆腐常用的凝固剂，能使豆浆中的蛋白质凝结成凝胶，把水分析出<tspan x="289" dy="7.3">来。</tspan></text></g>
<g id="ngj2" class="n"><rect x="285" y="1585" width="192" height="17"/><text x="289" y="1591.2">用盐卤做凝固剂制成的豆腐，硬度、弹性和韧性较强，称为老豆腐，或北豆腐、<tspan x="289" dy="7.3">硬豆腐。</tspan></text></g>
<g id="ylB" class="n"><rect x="241" y="1622" width="14" height="10"/><text x="245.5" y="1629">B</text></g>
<g id="cl" class="n"><rect x="273" y="1609" width="21" height="10"/><text x="277" y="1616">材料</text></g>
<g id="cl1" class="n"><rect x="312" y="1603" width="31" height="10"/><text x="316" y="1610">老式盐罐</text></g>
<g id="cl2" class="n"><rect x="312" y="1614" width="21" height="10"/><text x="316" y="1621">粗盐</text></g>
<g id="lz" class="n"><rect x="273" y="1632" width="31" height="10"/><text x="277" y="1639">盐卤制作</text></g>
<g id="lz1" class="n"><rect x="322" y="1625" width="192" height="25"/><text x="326" y="1631.2">将粗盐放入盐罐中，随着时间和天气的变化，上层的粗盐会慢慢融化<tspan x="326" dy="7.3">出“水”，“水”通过盐罐中的小孔流入下层，等到需要时，我们就可以把“水”从盐罐</tspan><tspan x="326" dy="7.3">中倒出来，这就是我们点豆腐时，需要的卤水。</tspan></text></g>
<g id="sgao" class="n"><rect x="202" y="1699" width="20" height="10"/><text x="206" y="1706">石膏</text></g>
<g id="sgQ" class="n"><rect x="241" y="1690" width="14" height="10"/><text x="245.5" y="1697">Q</text></g>
<g id="sgQ1" class="n"><rect x="273" y="1651" width="147" height="10"/><text x="277" y="1658">石膏的主要成分是硫酸钙，生石膏的主要成分是二水硫酸钙。</text></g>
<g id="esl" class="n"><rect x="273" y="1685" width="36" height="10"/><text x="277" y="1692">二水硫酸钙</text></g>
<g id="esl1" class="n"><rect x="329" y="1662" width="191" height="17"/><text x="333" y="1668.2">单斜晶系，晶体为板状，通常呈致密块状或纤维状，白色或灰、红、褐色，玻<tspan x="333" dy="7.3">璃或丝绢光泽。</tspan></text></g>
<g id="esl2" class="n"><rect x="329" y="1680" width="31" height="10"/><text x="333" y="1687">无气味。</text></g>
<g id="esl3" class="n"><rect x="329" y="1691" width="191" height="17"/><text x="333" y="1697.2">有吸湿性；微溶于水，溶于盐酸；微溶于酸、硫代硫酸钠和铵盐溶液；在热水中<tspan x="333" dy="7.3">溶解较少，能缓溶于甘油，不溶于乙醇和多数有机溶剂。</tspan></text></g>
<g id="esl4" class="n"><rect x="329" y="1709" width="31" height="10"/><text x="333" y="1716">贮存方法</text></g>
<g id="lsg" class="n"><rect x="273" y="1719" width="26" height="11"/><text x="277" y="1726.5">硫酸钙</text></g>
<g id="lsg1" class="n"><rect x="318" y="1719" width="179" height="11"/><text x="322" y="1726.5">斜方晶系，晶体为板状，通常呈致密块状或粒状，白、灰白色，玻璃光泽。</text></g>
<g id="sgC" class="n"><rect x="273" y="1731" width="14" height="9"/><text x="277.5" y="1737.5">C</text></g>
<g id="sgB" class="n"><rect x="241" y="1744" width="14" height="10"/><text x="245.5" y="1751">B</text></g>
<g id="sgB1" class="n"><rect x="273" y="1739" width="192" height="17"/><text x="277" y="1745.2">先是用生石膏，放火炉里烧一烧，让它失水变成熟石膏，再将熟石膏碾碎成粉<tspan x="277" dy="7.3">末，粉末溶于水里，就成了卤水。</tspan></text></g>
<g id="s4R" class="n"><rect x="202" y="1769" width="14" height="10"/><text x="206.5" y="1776">R</text></g>
<g id="nz" class="n"><rect x="235" y="1758" width="20" height="10"/><text x="239" y="1765">内酯</text></g>
<g id="s4R2" class="n"><rect x="235" y="1774" width="13" height="10"/><text x="239" y="1781">R</text></g>
<g id="bc1" class="n"><rect x="267" y="1769" width="77" height="10"/><text x="271" y="1776">白醋50g，醋7g，凉白开150ml</text></g>
<g id="bc2" class="n"><rect x="267" y="1780" width="60" height="10"/><text x="271" y="1787">白醋40ml，清水200ml</text></g>
<g id="s4O" class="n"><rect x="202" y="1790" width="14" height="10"/><text x="206.5" y="1797">O</text></g>

<g id="s5" class="l1"><rect x="117" y="1885" width="67" height="12"/><text x="120" y="1894.3"><tspan class="num" fill="#4b2f9e">5</tspan> 获得成品：豆腐</text></g>
<g id="ld" class="n"><rect x="202" y="1882" width="36" height="10"/><text x="206" y="1889">卤水点豆腐</text></g>
<g id="zb" class="n"><rect x="256" y="1825" width="21" height="11"/><text x="260" y="1832.5">准备</text></g>
<g id="zb1" class="n"><rect x="295" y="1814" width="43" height="10"/><text x="299" y="1821">纱布/模具洗净</text></g>
<g id="zb2" class="n"><rect x="295" y="1826" width="30" height="10"/><text x="299" y="1833">卤水化开</text></g>
<g id="zb2a" class="n"><rect x="345" y="1826" width="65" height="10"/><text x="349" y="1833">卤水过滤后，用水稀释。</text></g>
<g id="zb3" class="n"><rect x="295" y="1836" width="51" height="10"/><text x="299" y="1843">豆腐模具：豆腐包</text></g>
<g id="zb3a" class="n"><rect x="364" y="1836" width="86" height="10"/><text x="368" y="1843">上方有盖子，下方能滤水的容器。</text></g>
<g id="gch" class="n"><rect x="256" y="1865" width="21" height="10"/><text x="260" y="1872">过程</text></g>
<g id="gch1" class="n"><rect x="295" y="1847" width="13" height="10"/><text x="299.5" y="1854">F</text></g>
<g id="gch1a" class="n"><rect x="331" y="1847" width="103" height="10"/><text x="335" y="1854">将过滤后的豆浆，加入锅中，边煮边搅拌。</text></g>
<g id="gch2" class="n"><rect x="295" y="1862" width="25" height="10"/><text x="299" y="1869">点豆腐</text></g>
<g id="gch2a" class="n"><rect x="340" y="1858" width="191" height="17"/><text x="344" y="1864.2">将卤水多次少量加入锅中，慢慢搅动，使豆浆逐渐凝固，减少卤水每次<tspan x="344" dy="7.3">加入量。</tspan></text></g>
<g id="gch3" class="n"><rect x="295" y="1880" width="25" height="10"/><text x="299" y="1887">压豆腐</text></g>
<g id="gch3a" class="n"><rect x="340" y="1877" width="191" height="17"/><text x="344" y="1883.2">将凝固的豆花盛到豆腐包里压实，静置几十分钟，待豆腐不再滴水，即<tspan x="344" dy="7.3">可。</tspan></text></g>
<g id="s5Y" class="n"><rect x="256" y="1922" width="13" height="10"/><text x="260.5" y="1929">Y</text></g>
<g id="s5Y1" class="n"><rect x="288" y="1894" width="147" height="10"/><text x="292" y="1901">卤水稀释时，可以添加适量食用盐，有一点食用盐沉淀为宜。</text></g>
<g id="s5Y2" class="n"><rect x="288" y="1905" width="128" height="10"/><text x="292" y="1912">豆浆的温度要控制在80-85度，不停搅拌，防止糊锅。</text></g>
<g id="s5Y3" class="n"><rect x="288" y="1916" width="192" height="24"/><text x="292" y="1922.2">点豆腐时，卤水的量不可过多，也不可过少，需观察豆腐，就可以减少卤水每<tspan x="292" dy="7.3">次加入量，当出现80%絮状物时，就可以停止加卤水。之后，盖锅盖，焖上几分</tspan><tspan x="292" dy="7.3">钟。</tspan></text></g>
<g id="s5Y4" class="n"><rect x="288" y="1941" width="192" height="17"/><text x="292" y="1947.2">豆腐的力道不能过大，也不能太小，太大，可能就成了豆腐干，太小可能成不了<tspan x="292" dy="7.3">豆腐。</tspan></text></g>
<g id="s5F" class="n"><rect x="202" y="1960" width="13" height="10"/><text x="206.5" y="1967">F</text></g>

<g id="s6" class="l1"><rect x="117" y="2180" width="47" height="12"/><text x="120" y="2189.3"><tspan class="num" fill="#f2a019">6</tspan> 饮食禁忌</text></g>
<g id="gx" class="n"><rect x="182" y="2000" width="31" height="10"/><text x="186" y="2007">功效作用</text></g>
<g id="gx1" class="n"><rect x="232" y="1984" width="30" height="10"/><text x="236" y="1991">健脾养胃</text></g>
<g id="gx2" class="n"><rect x="232" y="1995" width="30" height="10"/><text x="236" y="2002">防癌抗癌</text></g>
<g id="gx3" class="n"><rect x="232" y="2006" width="30" height="10"/><text x="236" y="2013">排毒解毒</text></g>
<g id="gx4" class="n"><rect x="232" y="2016" width="20" height="10"/><text x="236" y="2023">清热</text></g>
<g id="jy" class="n"><rect x="182" y="2125" width="31" height="10"/><text x="186" y="2132">禁用人群</text></g>
<g id="jy1" class="n"><rect x="232" y="2038" width="106" height="10"/><text x="236" y="2045">痛风与血尿酸浓度增高的病人忌食用豆腐。</text></g>
<g id="jy1a" class="n"><rect x="357" y="2027" width="191" height="32"/><text x="361" y="2033.2">一是痛风与血尿酸浓度增高的病人，因体内嘌呤代谢失常，尿酸大量存在血液或<tspan x="361" dy="7.3">骨髓关节处，时间长了，会引起骨节红肿、剧痛。二是豆腐中含嘌呤较多，痛风</tspan><tspan x="361" dy="7.3">病人与血尿酸浓度增高的病人食用豆腐，必然会导致体内嘌呤量剧增，尿酸就更</tspan><tspan x="361" dy="7.3">快出现增多，使病情加重。</tspan></text></g>
<g id="jy2" class="n"><rect x="232" y="2060" width="101" height="10"/><text x="236" y="2067">消化性溃疡老年患者及小儿忌食用豆腐干。</text></g>
<g id="jy2a" class="n"><rect x="352" y="2060" width="126" height="10"/><text x="356" y="2067">食用豆腐干后，容易导致消化不良，危害身体健康。</text></g>
<g id="jy3" class="n"><rect x="232" y="2074" width="111" height="10"/><text x="236" y="2081">服用土霉素、四环素类药物时，忌食用豆腐。</text></g>
<g id="jy3a" class="n"><rect x="362" y="2071" width="191" height="17"/><text x="366" y="2077.2">食用多的豆制品容易与药物结合成一种牢固的络合物，破坏食物的营养，降<tspan x="366" dy="7.3">低药物的灵敏作用，达不到治疗效果。</tspan></text></g>
<g id="jy4" class="n"><rect x="232" y="2095" width="86" height="10"/><text x="236" y="2102">心血管疾病患者也忌过多食豆腐。</text></g>
<g id="jy4a" class="n"><rect x="337" y="2088" width="191" height="25"/><text x="341" y="2094.2">豆制品含有丰富的蛋氨酸，食入过多或久食，蛋氨酸在酶的作用下，将会转变为<tspan x="341" dy="7.3">同型半胱氨酸，而损伤动脉管壁内膜的细胞，使胆固醇和甘油三酯沉积，导</tspan><tspan x="341" dy="7.3">致血管硬化，加剧心血管系统疾病的病情。</tspan></text></g>
<g id="jy5" class="n"><rect x="232" y="2117" width="98" height="10"/><text x="236" y="2124">服用优降宁和苯乙肼药物时，忌食用豆腐。</text></g>
<g id="jy5a" class="n"><rect x="361" y="2114" width="187" height="17"/><text x="365" y="2120.2">服用降压药优降宁、抗抑郁药苯乙肼等药物时，食用豆腐将会引起血压升高。甚<tspan x="365" dy="7.3">至引起血压危象和脑出血，危及生命健康。</tspan></text></g>
<g id="jy6" class="n"><rect x="232" y="2139" width="75" height="10"/><text x="236" y="2146">肝性脑病患者忌食用豆腐。</text></g>
<g id="jy6a" class="n"><rect x="327" y="2131" width="191" height="25"/><text x="331" y="2137.2">肝性脑病，是严重肝病患者的一种并发症，在饮食方面，患者应严格限制<tspan x="331" dy="7.3">蛋白质的摄入，蛋白质中的氨基酸，在肠道细菌的作用下，可产生大量的氨，</tspan><tspan x="331" dy="7.3">使体内生成的氨增多而加重病情，引发肝昏迷。</tspan></text></g>
<g id="jy7" class="n"><rect x="232" y="2165" width="67" height="10"/><text x="236" y="2172">肾结石患者忌食用豆腐。</text></g>
<g id="jy7a" class="n"><rect x="316" y="2157" width="191" height="25"/><text x="320" y="2163.2">肾结石的主要成因，往往是尿钙排泄增多所导致的，以草酸盐结石最多，豆腐含<tspan x="320" dy="7.3">有较多的钙元素，食用后会增加尿钙的排泄，而豆腐中丰富的蛋白质，其</tspan><tspan x="320" dy="7.3">代谢产物又会产生尿酸，二者都能使结石患者的病情加重。</tspan></text></g>
<g id="jy8" class="n"><rect x="232" y="2186" width="81" height="10"/><text x="236" y="2193">急性肾炎患者忌食豆腐过多。</text></g>
<g id="jy8a" class="n"><rect x="331" y="2182" width="191" height="17"/><text x="335" y="2188.2">急性肾炎应限制蛋白质的摄入，以免蛋白质在体内的代谢产物尿素、尿酸、肌酐<tspan x="335" dy="7.3">排泄困难，蓄积中毒，危害身体健康。</tspan></text></g>
<g id="jy9" class="n"><rect x="232" y="2212" width="46" height="10"/><text x="236" y="2219">忌食用生豆腐。</text></g>
<g id="jy9a" class="n"><rect x="296" y="2201" width="192" height="32"/><text x="300" y="2207.2">大豆中含有胰蛋白酶抑制素，在豆腐的制作过程中，虽经加热煮沸，但尚未彻底<tspan x="300" dy="7.3">地破坏它，仍需进一步加热才行。如果食用胰蛋白酶抑制素未完全破坏的生豆</tspan><tspan x="300" dy="7.3">腐，不但会影响蛋白质的消化吸收，降低食用效果，还容易刺激胃肠道，引起腹</tspan><tspan x="300" dy="7.3">痛。</tspan></text></g>
<g id="xk" class="n"><rect x="182" y="2301" width="20" height="10"/><text x="186" y="2308">相克</text></g>
<g id="xk1" class="n"><rect x="222" y="2243" width="191" height="17"/><text x="226" y="2249.2">豆腐+含草酸高的食材（西兰花、香笋、荠荠菜、葱、菠菜、韭菜、竹笋、茭白<tspan x="226" dy="7.3">等）</tspan></text></g>
<g id="xk1a" class="n"><rect x="432" y="2233" width="191" height="17"/><text x="436" y="2239.2">水豆腐含钙最高，钙与草酸可转化成难以吸收的草酸钙，影响钙的消化吸收，<tspan x="436" dy="7.3">长期一起食用易形成结石。</tspan></text></g>
<g id="xk1b" class="n"><rect x="432" y="2252" width="191" height="17"/><text x="436" y="2258.2">可以将含草酸高的食材先用沸水焯一下，就可去除绝大多数的草酸，降低其影<tspan x="436" dy="7.3">响。</tspan></text></g>
<g id="xk2" class="n"><rect x="222" y="2274" width="33" height="10"/><text x="226" y="2281">豆腐+蜂蜜</text></g>
<g id="xk2a" class="n"><rect x="273" y="2270" width="192" height="17"/><text x="277" y="2276.2">豆腐中有多种矿物质、植物蛋白及有机酸，蜂蜜含糖较多，同食可致腹泻甚至胃<tspan x="277" dy="7.3">痛。</tspan></text></g>
<g id="xk3" class="n"><rect x="222" y="2292" width="33" height="10"/><text x="226" y="2299">豆腐+羊肉</text></g>
<g id="xk3a" class="n"><rect x="273" y="2288" width="192" height="17"/><text x="277" y="2294.2">豆腐是由大豆制成的，性味甘微寒，羊肉是大热动火的食物，与豆腐的功能恰好<tspan x="277" dy="7.3">相反，两者长期同吃易发生黄疸和脚气病（维生素B1缺乏症）。</tspan></text></g>
<g id="xk4" class="n"><rect x="222" y="2306" width="33" height="10"/><text x="226" y="2313">豆腐+牛肉</text></g>
<g id="xk4a" class="n"><rect x="273" y="2306" width="57" height="10"/><text x="277" y="2313">容易令人发热上火。</text></g>
<g id="xk5" class="n"><rect x="222" y="2321" width="33" height="10"/><text x="226" y="2328">豆腐+柿子</text></g>
<g id="xk5a" class="n"><rect x="273" y="2317" width="192" height="17"/><text x="277" y="2323.2">柿子含鞣酸多，豆腐中含有氯化钙，同吃易生成鞣酸钙沉淀，造成胆结石、肾结<tspan x="277" dy="7.3">石等结石疾病。</tspan></text></g>
<g id="xk6" class="n"><rect x="222" y="2335" width="33" height="10"/><text x="226" y="2342">豆腐+鲫鱼</text></g>
<g id="xk6a" class="n"><rect x="273" y="2335" width="41" height="10"/><text x="277" y="2342">易引起水肿。</text></g>
<g id="xk7" class="n"><rect x="222" y="2346" width="38" height="10"/><text x="226" y="2353">豆腐+比目鱼</text></g>
<g id="xk7a" class="n"><rect x="279" y="2346" width="61" height="10"/><text x="283" y="2353">增加蛋白质的吸收率。</text></g>
<g id="xk8" class="n"><rect x="222" y="2357" width="38" height="10"/><text x="226" y="2364">豆腐+香菇</text></g>
<g id="xk8a" class="n"><rect x="273" y="2357" width="67" height="10"/><text x="277" y="2364">易结石，补钙，降血压。</text></g>
<g id="xk9" class="n"><rect x="222" y="2368" width="38" height="10"/><text x="226" y="2375">豆腐+水芹菜</text></g>
<g id="xk9a" class="n"><rect x="279" y="2368" width="40" height="10"/><text x="283" y="2375">破坏营养素。</text></g>
<g id="bk" class="n"><rect x="182" y="2379" width="46" height="10"/><text x="186" y="2386">不可食用过量。</text></g>

<g id="s7" class="l1"><rect x="117" y="3069" width="34" height="13"/><text x="120" y="3078.8"><tspan class="num" fill="#f5c211">7</tspan> 菜谱</text></g>
<g id="ys" class="n"><rect x="169" y="2408" width="26" height="10"/><text x="173" y="2415">衍生品</text></g>
<g id="ys1" class="n"><rect x="213" y="2403" width="192" height="17"/><text x="217" y="2409.2">豆浆点卤，出现豆腐脑，豆腐脑沥去水，压成豆腐，将豆腐压紧，再榨干去<tspan x="217" dy="7.3">水，就成了豆腐干。</tspan></text></g>
<g id="mc" class="n"><rect x="169" y="2929" width="21" height="10"/><text x="173" y="2936">名菜</text></g>
<g id="pq" class="n"><rect x="208" y="2512" width="31" height="10"/><text x="212" y="2519">平桥豆腐</text></g>
<g id="pq1" class="n"><rect x="258" y="2422" width="12" height="10"/><text x="262" y="2429">o</text></g>
<g id="pq1a" class="n"><rect x="289" y="2422" width="102" height="10"/><text x="293" y="2429">江苏省淮安市的一道名菜，属于淮扬菜。</text></g>
<g id="pq2" class="n"><rect x="258" y="2466" width="12" height="10"/><text x="262" y="2473">s</text></g>
<g id="pq2a" class="n"><rect x="289" y="2433" width="191" height="74"/><text x="293" y="2439.2">平桥豆腐是淮安名菜，其来历还与乾隆南巡有关。平桥是淮安的一座古镇，濒<tspan x="293" dy="7.3">临京杭大运河的东岸，古色古香的街道，加上淳朴敦厚的乡风民俗，使这里自</tspan><tspan x="293" dy="7.3">然地成为了富有情趣、令人向往的地方。相传乾隆皇帝下江南之时，乘龙舟路</tspan><tspan x="293" dy="7.3">经此地，当时有位名叫林百万的大财主，认为这是天赐良机，是讨好皇上的大</tspan><tspan x="293" dy="7.3">好时机，于是他仗着自己拥有百万家产，令人在淮安至平桥镇四十多里的路上，</tspan><tspan x="293" dy="7.3">张灯结彩，铺设罗绢，硬是把皇上接到了家里。林百万是个很有心计的财主，</tspan><tspan x="293" dy="7.3">早在接驾之前，他就派人探听到皇上的饮食口味，所以他命家厨用鲫鱼脑加老</tspan><tspan x="293" dy="7.3">母鸡原汁烩当地的特色豆腐款待乾隆。乾隆吃后连声称赞，问道此菜何名？</tspan><tspan x="293" dy="7.3">林百万乃答：“平桥豆腐”。从此平桥豆腐身价百倍，名闻遐迩，而平桥豆腐</tspan><tspan x="293" dy="7.3">也成为淮扬菜系中的传统名菜。</tspan></text></g>
<g id="pq3" class="n"><rect x="258" y="2533" width="12" height="10"/><text x="262" y="2540">a</text></g>
<g id="pq3a" class="n"><rect x="289" y="2509" width="191" height="32"/><text x="293" y="2515.2">平桥豆腐妙在两条：一是用鲜鱼脑和鸡汤调味，普天之下，只此一家，姑且不论<tspan x="293" dy="7.3">汤口如何，能做到这一点已是煞费苦心，鬼斧神工；其二是成菜上桌后，有厚油</tspan><tspan x="293" dy="7.3">脂盖住不冒热气，其实很烫，勺不能、气不能、勺能气能，因此要将烫食之，小</tspan><tspan x="293" dy="7.3">心烫嘴。</tspan></text></g>
<g id="pq3b" class="n"><rect x="289" y="2542" width="191" height="25"/><text x="293" y="2548.2">烩制时，用原汁鸡汤，加上鲫鱼脑和蟹黄、鸡油、葱、姜等佐料，煮沸后，将去<tspan x="293" dy="7.3">皮的嫩豆腐片和熟肉丁、虾米、少许酱油一起放进锅里，烧开之后，用菱粉勾</tspan><tspan x="293" dy="7.3">芡，再加少许味精便可起锅了。若要增加香味，还可再加一点麻油或姜醋。</tspan></text></g>
<g id="pq4" class="n"><rect x="258" y="2577" width="12" height="10"/><text x="262" y="2584">a</text></g>
<g id="pq4a" class="n"><rect x="289" y="2567" width="14" height="9"/><text x="292.5" y="2573.5">m</text></g>
<g id="pq4b" class="n"><rect x="289" y="2577" width="13" height="9"/><text x="294" y="2583.5">l</text></g>
<g id="pq4c" class="n"><rect x="289" y="2587" width="13" height="9"/><text x="293" y="2593.5">q</text></g>
<g id="pq5" class="n"><rect x="258" y="2599" width="20" height="10"/><text x="262" y="2606">刀功</text></g>
<g id="pq5a" class="n"><rect x="297" y="2595" width="192" height="17"/><text x="301" y="2601.2">制作最是平桥豆腐，除了上述的佐料以外，关键在于豆腐的刀工，平桥豆腐的<tspan x="301" dy="7.3">刀片，薄像豆子一般，切得越薄，越显出功夫，否则也难入味。</tspan></text></g>
<g id="gt" class="n"><rect x="208" y="2637" width="31" height="10"/><text x="212" y="2644">锅塌豆腐</text></g>
<g id="gt1" class="n"><rect x="258" y="2614" width="12" height="9"/><text x="262" y="2620.5">o</text></g>
<g id="gt1a" class="n"><rect x="289" y="2614" width="91" height="10"/><text x="293" y="2621">山东省的一道特色名菜，属于鲁菜。</text></g>
<g id="gt2" class="n"><rect x="258" y="2628" width="15" height="10"/><text x="261" y="2635">sd</text></g>
<g id="gt2a" class="n"><rect x="291" y="2624" width="192" height="17"/><text x="295" y="2630.2">最早的锅塌菜应该是来自山东省，早在明代山东济南就出现了锅塌豆腐，此菜到<tspan x="295" dy="7.3">了清乾隆年间兴盛起来，后传遍山东各地，又传入到天津、北京及上海等地。</tspan></text></g>
<g id="gt3" class="n"><rect x="258" y="2652" width="12" height="9"/><text x="262" y="2658.5">e</text></g>
<g id="gt3a" class="n"><rect x="289" y="2642" width="14" height="9"/><text x="292.5" y="2648.5">m</text></g>
<g id="gt3b" class="n"><rect x="289" y="2652" width="13" height="9"/><text x="294" y="2658.5">l</text></g>
<g id="gt3c" class="n"><rect x="289" y="2661" width="13" height="9"/><text x="293" y="2667.5">q</text></g>
<g id="ws" class="n"><rect x="208" y="2708" width="31" height="11"/><text x="212" y="2715.5">文思豆腐</text></g>
<g id="ws1" class="n"><rect x="258" y="2671" width="12" height="9"/><text x="262" y="2677.5">o</text></g>
<g id="ws1a" class="n"><rect x="289" y="2671" width="124" height="10"/><text x="293" y="2678">江苏省的一道传统特色名菜，属于苏菜系-淮扬菜。</text></g>
<g id="ws2" class="n"><rect x="258" y="2686" width="15" height="10"/><text x="261" y="2693">sd</text></g>
<g id="ws2a" class="n"><rect x="291" y="2682" width="192" height="17"/><text x="295" y="2688.2">相传，由清代乾隆年间扬州僧人文思和尚所创制，一度成为清朝宫廷名菜，入选<tspan x="295" dy="7.3">了满汉全席。</tspan></text></g>
<g id="ws3" class="n"><rect x="258" y="2709" width="12" height="9"/><text x="262" y="2715.5">e</text></g>
<g id="ws3a" class="n"><rect x="289" y="2700" width="14" height="9"/><text x="292.5" y="2706.5">m</text></g>
<g id="ws3b" class="n"><rect x="289" y="2709" width="13" height="9"/><text x="294" y="2715.5">l</text></g>
<g id="ws3c" class="n"><rect x="289" y="2719" width="13" height="9"/><text x="293" y="2725.5">q</text></g>
<g id="ws4" class="n"><rect x="258" y="2737" width="12" height="10"/><text x="262" y="2744">s</text></g>
<g id="ws4a" class="n"><rect x="289" y="2728" width="91" height="10"/><text x="293" y="2735">选用盒装制作的豆腐1块约重450克；</text></g>
<g id="ws4b" class="n"><rect x="289" y="2739" width="191" height="17"/><text x="293" y="2745.2">刀工精细，对厨师手艺要求很高，香菇、冬笋、火腿、鸡脯肉都必须切成头发丝<tspan x="293" dy="7.3">粗细的丝。</tspan></text></g>
<g id="xs" class="n"><rect x="208" y="2812" width="31" height="10"/><text x="212" y="2819">西施豆腐</text></g>
<g id="xs1" class="n"><rect x="258" y="2757" width="12" height="10"/><text x="262" y="2764">o</text></g>
<g id="xs1a" class="n"><rect x="289" y="2757" width="66" height="10"/><text x="293" y="2764">浙江诸暨的传统风味名菜</text></g>
<g id="xs2" class="n"><rect x="258" y="2800" width="12" height="10"/><text x="262" y="2807">s</text></g>
<g id="xs2a" class="n"><rect x="289" y="2767" width="191" height="40"/><text x="293" y="2773.2">相传是西施留居的习俗，西施本来是农家姑女，洗衣浣纱，心灵手巧，而且擅<tspan x="293" dy="7.3">长烹饪，常做用豆腐调制的豆腐羹汤，因为它鲜嫩可口，邻居都看西施做豆腐</tspan><tspan x="293" dy="7.3">的方式，这时人们就称它为西施豆腐，后来西施把自己献给了国家，父老乡亲</tspan><tspan x="293" dy="7.3">们用豆腐作为饯别宴，就用山乡现成的豆腐作为留夜的第一个佳肴，来为西施</tspan><tspan x="293" dy="7.3">践行，流传的风俗至今未衰。</tspan></text></g>
<g id="xs2b" class="n"><rect x="289" y="2808" width="191" height="32"/><text x="293" y="2814.2">相传，乾隆皇帝游江南时，与宠臣刘墉一起微服私访来到诸暨，偶入西施故里，<tspan x="293" dy="7.3">信步来到苎萝山脚小村，只见农舍炊烟袅袅，方觉肚中饥饿，在一农家用餐，</tspan><tspan x="293" dy="7.3">享用“西施豆腐”后，不禁连声称妙，问其菜名，“好一个西施豆腐”，脱口赞</tspan><tspan x="293" dy="7.3">赏。</tspan></text></g>
<g id="xs3" class="n"><rect x="258" y="2854" width="12" height="10"/><text x="262" y="2861">e</text></g>
<g id="xs3a" class="n"><rect x="289" y="2840" width="14" height="9"/><text x="292.5" y="2846.5">m</text></g>
<g id="xs3b" class="n"><rect x="289" y="2850" width="13" height="9"/><text x="294" y="2856.5">l</text></g>
<g id="xs3c" class="n"><rect x="289" y="2860" width="13" height="9"/><text x="293" y="2866.5">q</text></g>
<g id="xs3d" class="n"><rect x="289" y="2870" width="13" height="9"/><text x="293" y="2876.5">y</text></g>
<g id="nq" class="n"><rect x="208" y="2941" width="31" height="11"/><text x="212" y="2948.5">泥鳅豆腐</text></g>
<g id="nq1" class="n"><rect x="258" y="2879" width="12" height="9"/><text x="262" y="2885.5">o</text></g>
<g id="nq1a" class="n"><rect x="289" y="2879" width="173" height="10"/><text x="293" y="2886">又名泥鳅钻豆腐、汉宫藏娇、玉苗泥，是一道来自豫闽的传统风味名菜。</text></g>
<g id="nq2" class="n"><rect x="258" y="2920" width="12" height="10"/><text x="262" y="2927">s</text></g>
<g id="nq2a" class="n"><rect x="289" y="2889" width="191" height="53"/><text x="293" y="2895.2">传说是由周口淮阳民间文明创制而成的，据说起源于河南周口淮阳镇，这是一个<tspan x="293" dy="7.3">叫周文明的渔民，以捕鱼虾为生，他在捕鱼的时候，经常捕到一些泥鳅，但</tspan><tspan x="293" dy="7.3">往往较大的泥鳅卖掉，剩下的小的无人问津，每次只好带回家来自己烹食。有一</tspan><tspan x="293" dy="7.3">次，他为调剂口味翻新花样，把活的小泥鳅放在清水盆里吐净泥，并从街上买</tspan><tspan x="293" dy="7.3">回一块豆腐，备好调味佐料，因泥鳅小不能烹熟，便把泥鳅放锅内盖上锅，用</tspan><tspan x="293" dy="7.3">柴禾同豆腐一起煮，温度升高时，发现小泥鳅都钻进豆腐中去了，只是尾巴留</tspan><tspan x="293" dy="7.3">于外，此法做成食后味道鲜美，后来又传开，即名之为“泥鳅钻豆腐”。</tspan></text></g>
<g id="nq2b" class="n"><rect x="289" y="2943" width="191" height="18"/><text x="293" y="2949.2">因众以泥鳅比喻奸滑的董卓，泥鳅在热汤中急得无处藏身，钻入冷豆腐中，结果<tspan x="293" dy="7.3">还是逃脱不了被烹煮的命运，恰如王允献貂蝉，使出美人计一般。</tspan></text></g>
<g id="nq3" class="n"><rect x="258" y="2970" width="12" height="10"/><text x="262" y="2977">e</text></g>
<g id="nq3a" class="n"><rect x="289" y="2961" width="14" height="9"/><text x="292.5" y="2967.5">m</text></g>
<g id="nq3b" class="n"><rect x="289" y="2971" width="13" height="9"/><text x="294" y="2977.5">l</text></g>
<g id="nq3c" class="n"><rect x="289" y="2981" width="13" height="9"/><text x="293" y="2987.5">q</text></g>
<g id="nq4" class="n"><rect x="258" y="2997" width="31" height="11"/><text x="262" y="3004.5">菜品质疑</text></g>
<g id="nq4a" class="n"><rect x="306" y="2990" width="192" height="25"/><text x="310" y="2996.2">泥鳅钻豆腐这道菜之所以出名，但一直没有见过泥鳅钻进豆腐块里面的。为此，<tspan x="310" dy="7.3">有人专门做过实验，然而，实验均以失败告终，从实验结果看，“泥鳅钻进豆</tspan><tspan x="310" dy="7.3">腐里”也许是假的，真的只是一个传说。</tspan></text></g>
<g id="mpo" class="n"><rect x="208" y="3089" width="31" height="10"/><text x="212" y="3096">麻婆豆腐</text></g>
<g id="mpo1" class="n"><rect x="258" y="3016" width="12" height="9"/><text x="262" y="3022.5">o</text></g>
<g id="mpo1a" class="n"><rect x="289" y="3016" width="86" height="10"/><text x="293" y="3023">四川省传统名菜之一，属于川菜。</text></g>
<g id="mpo2" class="n"><rect x="258" y="3045" width="12" height="10"/><text x="262" y="3052">s</text></g>
<g id="mpo2a" class="n"><rect x="289" y="3026" width="191" height="46"/><text x="293" y="3032.2">始创于清朝同治元年（1862年），在成都万福桥边，有一家原名“陈兴盛饭铺”的<tspan x="293" dy="7.3">店面，店主陈春富（陈森富）早殁，小饭店便由老板娘经营，女老板面上有麻，</tspan><tspan x="293" dy="7.3">人称“陈麻婆”。当年的万福桥是一道横跨府河，常有苦力之人在此歇脚、打尖。</tspan><tspan x="293" dy="7.3">光顾饭铺的主要是挑油的脚夫，陈氏对烹制豆腐有一套独特的烹饪技巧，烹制出</tspan><tspan x="293" dy="7.3">的豆腐色香味俱全，不同凡响，深得人们喜爱，她创制的这豆腐，便被称为“陈麻</tspan><tspan x="293" dy="7.3">婆豆腐”，其饮食小店后来也以“陈麻婆豆腐”为名。</tspan></text></g>
<g id="mpo3" class="n"><rect x="258" y="3095" width="20" height="10"/><text x="262" y="3102">变化</text></g>
<g id="mpo3a" class="n"><rect x="297" y="3073" width="192" height="54"/><text x="301" y="3079.2">早期的麻婆豆腐用料是菜油和黄牛肉，烹饪手法是先在锅中将一大勺菜油烧熟，<tspan x="301" dy="7.3">然后加一大把辣椒末，接着下牛肉，煮到牛肉变酥时再下豆腐。之后加入豆腐，</tspan><tspan x="301" dy="7.3">翻锅加水并炉几下调匀，最后盖上锅盖用小火将汤汁收干，起锅前再洒上花椒</tspan><tspan x="301" dy="7.3">末。二十世纪六十年代，制作麻婆豆腐时，油必用花生油，肉则不再用牛肉，</tspan><tspan x="301" dy="7.3">而炒熟后，加入豆瓣酱、豆豉、红辣椒粉、酱油、盐、糖，爆香后再加入豆腐片，</tspan><tspan x="301" dy="7.3">煮透后加入葱、姜、蒜，以水粉勾芡，起锅后加花椒粉和辣油，作料与程</tspan><tspan x="301" dy="7.3">序已有所变化，口味鲜麻辣，辣、烫、鲜。</tspan></text></g>
<g id="mpo4" class="n"><rect x="258" y="3137" width="12" height="9"/><text x="262" y="3143.5">e</text></g>
<g id="mpo4a" class="n"><rect x="289" y="3128" width="14" height="9"/><text x="292.5" y="3134.5">m</text></g>
<g id="mpo4b" class="n"><rect x="289" y="3137" width="13" height="9"/><text x="294" y="3143.5">l</text></g>
<g id="mpo4c" class="n"><rect x="289" y="3147" width="13" height="9"/><text x="293" y="3153.5">q</text></g>
<g id="mpo5" class="n"><rect x="258" y="3160" width="12" height="9"/><text x="262" y="3166.5">s</text></g>
<g id="mpo5a" class="n"><rect x="289" y="3156" width="191" height="17"/><text x="293" y="3162.2">麻婆豆腐的特色在于麻、辣、烫、香、酥、嫩、鲜、活八字，称之为八字箴<tspan x="293" dy="7.3">言。</tspan></text></g>
<g id="zd" class="n"><rect x="208" y="3214" width="31" height="10"/><text x="212" y="3221">总督豆腐</text></g>
<g id="zd1" class="n"><rect x="258" y="3175" width="12" height="9"/><text x="262" y="3181.5">o</text></g>
<g id="zd1a" class="n"><rect x="289" y="3175" width="107" height="10"/><text x="293" y="3182">河北保定的一道地方传统名菜，属直隶菜。</text></g>
<g id="zd2" class="n"><rect x="258" y="3200" width="12" height="10"/><text x="262" y="3207">s</text></g>
<g id="zd2a" class="n"><rect x="289" y="3184" width="191" height="40"/><text x="293" y="3190.2">李鸿章是清代74位直隶总督中，属任职任期最多的直隶总督，有“八面八掌”的美<tspan x="293" dy="7.3">称，他注重饮食，讲究营养。有次，官厨采用传统烹饪手法，做了一道素烩豆</tspan><tspan x="293" dy="7.3">腐，李鸿章品尝后不太满意，后来府厨又加入了虾籽、干贝等原料重新烹制，请</tspan><tspan x="293" dy="7.3">总督大人品尝，李鸿章称为满意，之后就成了李鸿章常吃的一道菜，后人将此菜</tspan><tspan x="293" dy="7.3">命名为“总督豆腐”。</tspan></text></g>
<g id="zd3" class="n"><rect x="258" y="3234" width="12" height="9"/><text x="262" y="3240.5">e</text></g>
<g id="zd3a" class="n"><rect x="289" y="3225" width="14" height="9"/><text x="292.5" y="3231.5">m</text></g>
<g id="zd3b" class="n"><rect x="289" y="3234" width="13" height="9"/><text x="294" y="3240.5">l</text></g>
<g id="zd3c" class="n"><rect x="289" y="3244" width="13" height="9"/><text x="293" y="3250.5">q</text></g>
<g id="zd4" class="n"><rect x="258" y="3253" width="12" height="10"/><text x="262" y="3260">s</text></g>
<g id="zd4a" class="n"><rect x="289" y="3253" width="188" height="10"/><text x="293" y="3260">选材普通，取新鲜豆腐和猪肉即可，做成后，色泽油红，咸鲜醇厚，味浓郁。</text></g>
<g id="cd" class="n"><rect x="208" y="3349" width="25" height="10"/><text x="212" y="3356">臭豆腐</text></g>
<g id="cd1" class="n"><rect x="253" y="3264" width="12" height="9"/><text x="257" y="3270.5">o</text></g>
<g id="cd1a" class="n"><rect x="284" y="3264" width="66" height="10"/><text x="288" y="3271">中国传统特色小吃之一。</text></g>
<g id="cd2" class="n"><rect x="253" y="3312" width="12" height="10"/><text x="257" y="3319">s</text></g>
<g id="cd2a" class="n"><rect x="284" y="3275" width="192" height="32"/><text x="288" y="3281.2">话说朱元璋当初落魄时，年少时当过乞丐和和尚，有一日因饥饿无法忍受，捡起人<tspan x="288" dy="7.3">家丢弃的过期豆腐，不管三七二十一，放油煎之，一口吞进嘴里，那种味道别有</tspan><tspan x="288" dy="7.3">滋味。后来他当了军事统帅，军队一路连战打胜安徽，高兴之余，命令全军共</tspan><tspan x="288" dy="7.3">吃臭豆腐庆祝一番，臭豆腐之美名终于广为流传。</tspan></text></g>
<g id="cd2b" class="n"><rect x="284" y="3307" width="192" height="32"/><text x="288" y="3313.2">传说此道菜起源于清康熙年间，由安徽考生王致和发现的。而且很受皇族的喜<tspan x="288" dy="7.3">爱，相传，一天他准备的豆腐卖不完，无奈之中，即把豆腐切成小块放在缸里，</tspan><tspan x="288" dy="7.3">又放上了盐和花椒等佐料，中间配有大小匀匀分割数块臭豆腐，等待些日子</tspan><tspan x="288" dy="7.3">再打开，味道到其可口，从此，流传京都里离不开臭豆腐了。</tspan></text></g>
<g id="cd2c" class="n"><rect x="284" y="3340" width="192" height="17"/><text x="288" y="3346.2">明代学者何日华在当时就已在其著作中说，安徽黟县人喜欢在夏秋之际用盐<tspan x="288" dy="7.3">使豆腐全色生毛，洗干净后入油锅中煎炸，有如中鲜鱼的味道。</tspan></text></g>
<g id="cd3" class="n"><rect x="253" y="3364" width="12" height="9"/><text x="257" y="3370.5">a</text></g>
<g id="cd3a" class="n"><rect x="284" y="3358" width="37" height="10"/><text x="288" y="3365">长沙臭豆腐</text></g>
<g id="cd3b" class="n"><rect x="284" y="3369" width="37" height="10"/><text x="288" y="3376">南京臭豆腐</text></g>
<g id="cd4" class="n"><rect x="253" y="3407" width="25" height="10"/><text x="257" y="3414">危险性</text></g>
<g id="cd4a" class="n"><rect x="297" y="3380" width="192" height="25"/><text x="301" y="3386.2">豆制品在发酵过程中会产生甲胺、腐胺、色胺等胺类物质以及硫化氢，它们具有<tspan x="301" dy="7.3">一股特殊的臭味和很强的挥发性，多吃对健康并无益处。此外，腐败物质存放时</tspan><tspan x="301" dy="7.3">间长了，还可能与菜油酸起作用，生成致癌物亚硝胺。</tspan></text></g>
<g id="cd4b" class="n"><rect x="297" y="3406" width="192" height="39"/><text x="301" y="3412.2">臭豆腐虽小，但制作流程却比较复杂，必须经过浸泡、加卤和发酵等几道程序。<tspan x="301" dy="7.3">在整个制作过程中，要求一直在自然条件下进行，而且对温度和湿度的要求非常</tspan><tspan x="301" dy="7.3">高，一旦控制不好，很容易受到有害细菌的污染，轻者会引起人体肠道疾病，</tspan><tspan x="301" dy="7.3">重者还会导致肉毒杆菌大量繁殖，产生一种有毒物质——肉毒毒素，这是一种</tspan><tspan x="301" dy="7.3">神经毒素，毒力较强，曾观察过的臭豆腐中毒事件，就是由这种毒素引起的。</tspan></text></g>
<g id="jc" class="n"><rect x="169" y="3592" width="26" height="10"/><text x="173" y="3599">家常菜</text></g>
<g id="jy" class="n"><rect x="213" y="3525" width="37" height="11"/><text x="217" y="3532.5">鲫鱼豆腐汤</text></g>
<g id="jyM" class="n"><rect x="267" y="3450" width="15" height="9"/><text x="270.5" y="3456.5">m</text></g>
<g id="jyM1" class="n"><rect x="301" y="3445" width="20" height="10"/><text x="305" y="3452">鲫鱼</text></g>
<g id="jyM2" class="n"><rect x="301" y="3456" width="13" height="9"/><text x="305" y="3462.5">r</text></g>
<g id="jyL" class="n"><rect x="267" y="3481" width="13" height="9"/><text x="272" y="3487.5">l</text></g>
<g id="jyL1" class="n"><rect x="299" y="3466" width="20" height="10"/><text x="303" y="3473">香葱</text></g>
<g id="jyL2" class="n"><rect x="299" y="3476" width="13" height="10"/><text x="302.5" y="3483">w</text></g>
<g id="jyL3" class="n"><rect x="299" y="3486" width="15" height="10"/><text x="303" y="3493">姜</text></g>
<g id="jyL4" class="n"><rect x="299" y="3497" width="12" height="9"/><text x="302.5" y="3503.5">q</text></g>
<g id="jyG" class="n"><rect x="267" y="3536" width="14" height="10"/><text x="271.5" y="3543">g</text></g>
<g id="jyG1" class="n"><rect x="299" y="3506" width="192" height="17"/><text x="303" y="3512.2">鲫鱼买来好，去干净鱼鳞和鱼肚里的黑膜，彻底洗净，控干水份，豆腐切小块，<tspan x="303" dy="7.3">姜切片，香葱打成结。</tspan></text></g>
<g id="jyG2" class="n"><rect x="299" y="3524" width="192" height="25"/><text x="303" y="3530.2">热锅凉油，放入姜片爆香（可以提前用姜片擦锅，这样可以有效避免鱼皮粘<tspan x="303" dy="7.3">锅），放入鲫鱼，煎至鱼皮两面金黄色，翻面，同样煎至金黄色，煎鱼可以先煎</tspan><tspan x="303" dy="7.3">鱼肚，不易煎烂。</tspan></text></g>
<g id="jyG3" class="n"><rect x="299" y="3550" width="192" height="25"/><text x="303" y="3556.2">加入没过鱼身2~3cm的开水（水要多加些，因为要大火中火熬煮，避免中途水不够<tspan x="303" dy="7.3">添水），放入葱结，大火滚煮15分钟，放入豆腐，转中火继续煮10分钟，出锅前5</tspan><tspan x="303" dy="7.3">分钟调入盐即可。</tspan></text></g>
<g id="jyY" class="n"><rect x="267" y="3585" width="14" height="10"/><text x="271.5" y="3592">y</text></g>
<g id="jyY1" class="n"><rect x="299" y="3575" width="168" height="10"/><text x="303" y="3582">加开水：炖鱼成汤基本都是直接加热水，这样不但汤白，味道也更好。</text></g>
<g id="jyY2" class="n"><rect x="299" y="3586" width="192" height="17"/><text x="303" y="3592.2">加入开水后，一定要大火煮15分钟以上，然后可以转中火慢炖，不是用太小的<tspan x="303" dy="7.3">火，用很小火出清汤大火出白汤就是这个道理。</tspan></text></g>
<g id="jyS" class="n"><rect x="267" y="3604" width="53" height="11"/><text x="271" y="3611.5">来源：下厨房-万万</text></g>
<g id="xc" class="n"><rect x="213" y="3676" width="56" height="10"/><text x="217" y="3683">小葱拌豆腐（凉菜）</text></g>
<g id="xcM" class="n"><rect x="288" y="3615" width="14" height="10"/><text x="291.5" y="3622">m</text></g>
<g id="xcM1" class="n"><rect x="320" y="3615" width="17" height="9"/><text x="324" y="3621.5">nt</text></g>
<g id="xcL" class="n"><rect x="288" y="3656" width="13" height="9"/><text x="293" y="3662.5">l</text></g>
<g id="xcL1" class="n"><rect x="318" y="3625" width="14" height="9"/><text x="322.5" y="3631.5">a</text></g>
<g id="xcL2" class="n"><rect x="318" y="3635" width="21" height="10"/><text x="322" y="3642">生抽</text></g>
<g id="xcL3" class="n"><rect x="318" y="3645" width="15" height="10"/><text x="322" y="3652">醋</text></g>
<g id="xcL4" class="n"><rect x="318" y="3656" width="21" height="10"/><text x="322" y="3663">蚝油</text></g>
<g id="xcL5" class="n"><rect x="318" y="3667" width="13" height="9"/><text x="322.5" y="3673.5">s</text></g>
<g id="xcL6" class="n"><rect x="318" y="3676" width="15" height="10"/><text x="322" y="3683">糖</text></g>
<g id="xcL7" class="n"><rect x="318" y="3687" width="21" height="10"/><text x="322" y="3694">麻油</text></g>
<g id="xcG" class="n"><rect x="288" y="3713" width="14" height="10"/><text x="292.5" y="3720">g</text></g>
<g id="xcG1" class="n"><rect x="320" y="3697" width="167" height="11"/><text x="324" y="3704.5">小葱切成葱花，豆腐切块，豆腐静置十分钟后，倒掉多余的豆腐水。</text></g>
<g id="xcG2" class="n"><rect x="320" y="3709" width="191" height="17"/><text x="324" y="3715.2">调酱汁：将所有调料放入盛有葱花的碗里，拌均匀，葱花一定要和调料拌一起，<tspan x="324" dy="7.3">可以激发出葱花的香味。</tspan></text></g>
<g id="xcG3" class="n"><rect x="320" y="3727" width="107" height="10"/><text x="324" y="3734">将拌好的调料汁浇撒在切好的豆腐上面。</text></g>
<g id="xcS" class="n"><rect x="288" y="3738" width="68" height="10"/><text x="292" y="3745">来源：下厨房-Toby宝贝妈</text></g>
</svg>
